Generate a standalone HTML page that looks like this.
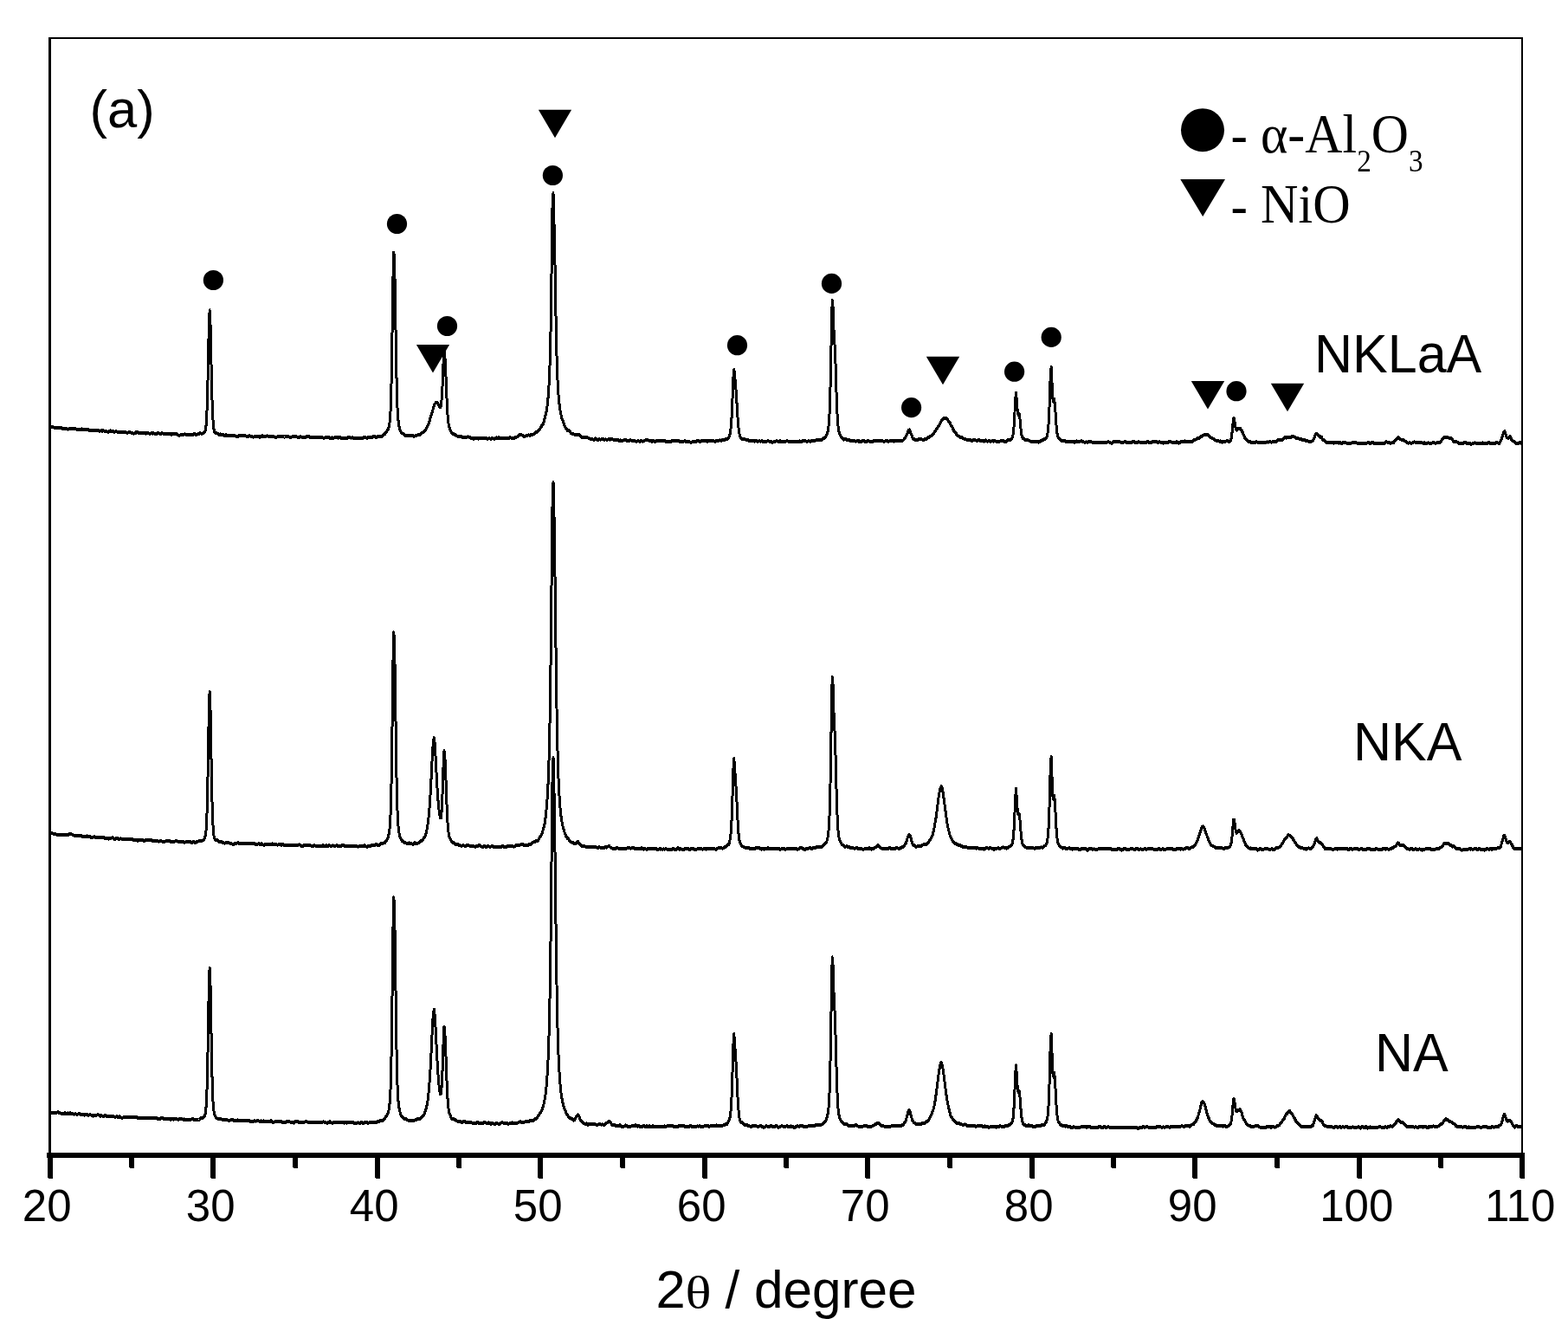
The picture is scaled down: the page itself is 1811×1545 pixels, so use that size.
<!DOCTYPE html>
<html lang="en"><head><meta charset="utf-8"><title>XRD patterns</title>
<style>html,body{margin:0;padding:0;background:#fff;}body{width:1811px;height:1545px;overflow:hidden;}svg{display:block;}.s{font-family:"Liberation Sans",sans-serif;fill:#000;}.t{font-family:"Liberation Serif",serif;fill:#000;}</style></head><body>
<svg width="1811" height="1545" viewBox="0 0 1811 1545">
<rect x="0" y="0" width="1811" height="1545" fill="#fff"/>
<path transform="scale(1 1.3333)" d="M57.6 370.56 L58.5 370.27 L59.4 369.72 L60.3 369.52 L61.2 369.93 L62.1 370.21 L63.0 370.27 L63.9 370.52 L64.8 370.51 L65.7 370.21 L66.6 370.16 L67.5 370.48 L68.4 370.86 L69.3 370.79 L70.2 370.35 L71.1 370.45 L72.0 371.10 L72.9 371.40 L73.8 371.05 L74.7 370.95 L75.6 371.19 L76.5 371.23 L77.4 371.47 L78.3 371.74 L79.2 371.58 L80.1 371.45 L81.0 371.42 L81.9 371.25 L82.8 371.19 L83.7 371.24 L84.6 371.29 L85.5 371.35 L86.4 371.41 L87.3 371.50 L88.2 371.64 L89.1 371.77 L90.0 372.01 L90.9 371.99 L91.8 371.78 L92.7 371.98 L93.6 371.87 L94.5 371.60 L95.4 371.82 L96.3 372.20 L97.2 372.25 L98.1 372.04 L99.0 372.13 L99.9 372.08 L100.8 371.71 L101.7 371.88 L102.6 372.46 L103.5 372.81 L104.4 372.90 L105.3 372.83 L106.2 372.73 L107.1 372.83 L108.0 372.86 L108.9 372.60 L109.8 372.63 L110.7 372.65 L111.6 372.63 L112.5 372.89 L113.4 372.86 L114.3 373.11 L115.2 373.43 L116.1 373.03 L117.0 373.04 L117.9 373.32 L118.8 373.04 L119.7 373.03 L120.6 373.40 L121.5 373.57 L122.4 373.61 L123.3 373.74 L124.2 373.97 L125.1 374.00 L126.0 373.72 L126.9 373.38 L127.8 373.10 L128.7 373.16 L129.6 373.40 L130.5 373.48 L131.4 374.02 L132.3 374.29 L133.2 373.76 L134.1 373.55 L135.0 373.87 L135.9 374.06 L136.8 373.93 L137.7 373.89 L138.6 373.96 L139.5 374.23 L140.4 374.41 L141.3 374.19 L142.2 374.21 L143.1 374.50 L144.0 374.43 L144.9 374.30 L145.8 374.58 L146.7 374.79 L147.6 374.74 L148.5 374.40 L149.4 374.01 L150.3 374.26 L151.2 374.69 L152.1 374.70 L153.0 374.84 L153.9 375.39 L154.8 375.47 L155.7 375.22 L156.6 374.96 L157.5 374.22 L158.4 374.10 L159.3 374.73 L160.2 374.95 L161.1 375.04 L162.0 375.09 L162.9 375.05 L163.8 375.13 L164.7 374.90 L165.6 374.65 L166.5 374.91 L167.4 375.37 L168.3 375.43 L169.2 375.05 L170.1 374.94 L171.0 375.03 L171.9 375.31 L172.8 375.68 L173.7 375.49 L174.6 375.22 L175.5 375.37 L176.4 375.41 L177.3 375.16 L178.2 375.38 L179.1 375.88 L180.0 375.85 L180.9 375.49 L181.8 375.33 L182.7 375.21 L183.6 375.24 L184.5 375.65 L185.4 375.82 L186.3 375.53 L187.2 375.23 L188.1 375.38 L189.0 375.77 L189.9 375.79 L190.8 375.72 L191.7 375.96 L192.6 376.02 L193.5 375.70 L194.4 375.51 L195.3 375.43 L196.2 375.59 L197.1 376.05 L198.0 376.23 L198.9 375.98 L199.8 375.61 L200.7 375.59 L201.6 375.85 L202.5 375.98 L203.4 375.99 L204.3 376.04 L205.2 376.46 L206.1 376.93 L207.0 377.04 L207.9 376.85 L208.8 376.59 L209.7 376.46 L210.6 376.42 L211.5 376.45 L212.4 376.28 L213.3 376.08 L214.2 376.22 L215.1 376.51 L216.0 376.58 L216.9 376.35 L217.8 376.17 L218.7 376.14 L219.6 376.29 L220.5 376.64 L221.4 376.65 L222.3 376.49 L223.2 376.26 L224.1 375.86 L225.0 375.89 L225.9 376.44 L226.8 376.63 L227.7 376.15 L228.6 375.95 L229.5 375.88 L230.4 375.44 L231.3 375.27 L232.2 375.50 L233.1 375.51 L234.0 375.44 L234.9 375.28 L235.8 374.57 L236.7 373.63 L237.6 371.66 L238.5 364.93 L239.4 348.58 L240.3 320.43 L241.2 286.77 L242.1 268.74 L243.0 281.13 L243.9 312.29 L244.8 342.06 L245.7 360.68 L246.6 369.71 L247.5 373.53 L248.4 374.89 L249.3 374.96 L250.2 374.95 L251.1 375.50 L252.0 376.02 L252.9 376.30 L253.8 376.20 L254.7 376.12 L255.6 376.26 L256.5 376.17 L257.4 376.41 L258.3 376.93 L259.2 377.29 L260.1 377.15 L261.0 376.68 L261.9 376.96 L262.8 377.31 L263.7 377.25 L264.6 377.17 L265.5 377.10 L266.4 377.35 L267.3 377.38 L268.2 377.03 L269.1 377.00 L270.0 377.13 L270.9 377.31 L271.8 377.60 L272.7 377.77 L273.6 377.95 L274.5 377.94 L275.4 377.62 L276.3 377.33 L277.2 377.13 L278.1 377.09 L279.0 377.28 L279.9 377.43 L280.8 377.40 L281.7 377.52 L282.6 377.61 L283.5 377.50 L284.4 377.72 L285.3 378.22 L286.2 378.18 L287.1 377.67 L288.0 377.50 L288.9 377.56 L289.8 377.81 L290.7 378.20 L291.6 378.30 L292.5 378.42 L293.4 378.36 L294.3 377.90 L295.2 377.72 L296.1 377.95 L297.0 378.11 L297.9 378.06 L298.8 378.19 L299.7 378.43 L300.6 378.42 L301.5 378.08 L302.4 377.58 L303.3 377.59 L304.2 378.11 L305.1 378.12 L306.0 377.74 L306.9 377.69 L307.8 377.62 L308.7 377.57 L309.6 377.79 L310.5 377.85 L311.4 377.99 L312.3 378.22 L313.2 378.24 L314.1 378.29 L315.0 378.31 L315.9 378.20 L316.8 378.41 L317.7 378.63 L318.6 378.58 L319.5 378.47 L320.4 378.27 L321.3 378.31 L322.2 378.27 L323.1 377.73 L324.0 377.68 L324.9 378.19 L325.8 378.06 L326.7 377.91 L327.6 378.22 L328.5 378.39 L329.4 378.38 L330.3 378.12 L331.2 378.05 L332.1 378.28 L333.0 378.29 L333.9 378.41 L334.8 378.74 L335.7 378.77 L336.6 378.49 L337.5 378.31 L338.4 378.12 L339.3 377.86 L340.2 377.92 L341.1 377.99 L342.0 378.10 L342.9 378.37 L343.8 378.68 L344.7 379.11 L345.6 378.91 L346.5 378.29 L347.4 378.24 L348.3 378.42 L349.2 378.64 L350.1 378.85 L351.0 378.93 L351.9 378.94 L352.8 378.86 L353.7 378.36 L354.6 377.83 L355.5 377.95 L356.4 378.26 L357.3 378.35 L358.2 378.61 L359.1 379.01 L360.0 379.09 L360.9 379.03 L361.8 379.07 L362.7 379.02 L363.6 378.78 L364.5 378.64 L365.4 378.61 L366.3 378.98 L367.2 379.10 L368.1 378.52 L369.0 378.46 L369.9 378.80 L370.8 378.69 L371.7 378.66 L372.6 379.03 L373.5 379.24 L374.4 379.28 L375.3 378.98 L376.2 378.51 L377.1 378.68 L378.0 378.87 L378.9 378.56 L379.8 378.65 L380.7 379.17 L381.6 379.43 L382.5 379.17 L383.4 379.02 L384.3 379.37 L385.2 379.28 L386.1 379.05 L387.0 379.05 L387.9 378.90 L388.8 378.77 L389.7 379.07 L390.6 379.24 L391.5 378.63 L392.4 378.39 L393.3 379.01 L394.2 379.41 L395.1 379.62 L396.0 379.62 L396.9 379.24 L397.8 379.21 L398.7 379.51 L399.6 379.72 L400.5 379.53 L401.4 378.94 L402.3 378.70 L403.2 378.74 L404.1 378.89 L405.0 379.23 L405.9 379.19 L406.8 378.94 L407.7 379.11 L408.6 379.51 L409.5 379.41 L410.4 379.19 L411.3 379.27 L412.2 379.31 L413.1 379.49 L414.0 379.55 L414.9 379.33 L415.8 379.31 L416.7 379.48 L417.6 379.57 L418.5 379.43 L419.4 379.11 L420.3 378.97 L421.2 378.94 L422.1 378.92 L423.0 379.09 L423.9 379.21 L424.8 379.10 L425.7 378.82 L426.6 378.57 L427.5 378.74 L428.4 379.05 L429.3 378.93 L430.2 378.51 L431.1 378.28 L432.0 378.04 L432.9 377.95 L433.8 378.50 L434.7 378.68 L435.6 378.27 L436.5 377.87 L437.4 377.89 L438.3 378.15 L439.2 378.10 L440.1 378.11 L441.0 378.14 L441.9 377.50 L442.8 376.56 L443.7 376.07 L444.6 375.72 L445.5 375.00 L446.4 373.93 L447.3 372.89 L448.2 371.77 L449.1 369.89 L450.0 366.19 L450.9 358.23 L451.8 340.40 L452.7 305.86 L453.6 256.79 L454.5 218.72 L455.4 221.52 L456.3 251.44 L457.2 294.52 L458.1 331.17 L459.0 352.89 L459.9 363.51 L460.8 368.67 L461.7 371.52 L462.6 373.33 L463.5 374.52 L464.4 375.19 L465.3 375.48 L466.2 375.77 L467.1 376.69 L468.0 377.38 L468.9 377.40 L469.8 377.27 L470.7 376.99 L471.6 376.91 L472.5 377.08 L473.4 377.49 L474.3 377.56 L475.2 377.15 L476.1 377.06 L477.0 377.57 L477.9 378.03 L478.8 377.72 L479.7 377.39 L480.6 377.36 L481.5 377.18 L482.4 376.73 L483.3 376.27 L484.2 376.39 L485.1 376.65 L486.0 376.20 L486.9 375.33 L487.8 374.70 L488.7 374.38 L489.6 373.84 L490.5 373.09 L491.4 372.28 L492.3 371.05 L493.2 369.82 L494.1 368.59 L495.0 367.00 L495.9 365.08 L496.8 362.71 L497.7 360.32 L498.6 358.14 L499.5 355.93 L500.4 353.76 L501.3 351.58 L502.2 349.81 L503.1 348.93 L504.0 348.51 L504.9 348.55 L505.8 349.48 L506.7 351.03 L507.6 352.38 L508.5 352.83 L509.4 351.08 L510.3 344.58 L511.2 331.52 L512.1 313.65 L513.0 303.24 L513.9 308.79 L514.8 322.05 L515.7 339.90 L516.6 354.98 L517.5 363.84 L518.4 368.60 L519.3 371.19 L520.2 372.67 L521.1 374.14 L522.0 375.30 L522.9 375.86 L523.8 376.01 L524.7 376.10 L525.6 376.49 L526.5 377.02 L527.4 377.44 L528.3 377.65 L529.2 377.91 L530.1 378.32 L531.0 378.27 L531.9 377.83 L532.8 378.06 L533.7 378.66 L534.6 378.74 L535.5 378.53 L536.4 378.53 L537.3 378.69 L538.2 378.72 L539.1 378.56 L540.0 378.39 L540.9 378.38 L541.8 378.81 L542.7 379.16 L543.6 379.13 L544.5 379.53 L545.4 379.88 L546.3 379.88 L547.2 379.93 L548.1 379.83 L549.0 379.78 L549.9 379.44 L550.8 379.13 L551.7 379.62 L552.6 379.92 L553.5 379.64 L554.4 379.41 L555.3 379.20 L556.2 379.22 L557.1 379.52 L558.0 379.64 L558.9 379.86 L559.8 379.83 L560.7 379.35 L561.6 379.26 L562.5 379.83 L563.4 380.19 L564.3 379.78 L565.2 379.51 L566.1 379.96 L567.0 380.17 L567.9 379.72 L568.8 379.49 L569.7 379.71 L570.6 380.13 L571.5 380.15 L572.4 379.38 L573.3 379.05 L574.2 379.52 L575.1 379.49 L576.0 379.02 L576.9 379.28 L577.8 379.70 L578.7 379.64 L579.6 379.66 L580.5 379.76 L581.4 379.80 L582.3 379.76 L583.2 379.80 L584.1 379.78 L585.0 379.50 L585.9 379.55 L586.8 379.65 L587.7 379.33 L588.6 379.07 L589.5 378.93 L590.4 379.18 L591.3 379.69 L592.2 379.80 L593.1 379.75 L594.0 379.47 L594.9 378.99 L595.8 378.73 L596.7 378.55 L597.6 378.29 L598.5 377.73 L599.4 376.86 L600.3 376.33 L601.2 376.23 L602.1 376.35 L603.0 376.86 L603.9 377.52 L604.8 377.83 L605.7 377.80 L606.6 377.67 L607.5 377.62 L608.4 377.65 L609.3 377.29 L610.2 376.82 L611.1 376.90 L612.0 377.08 L612.9 376.73 L613.8 376.34 L614.7 376.34 L615.6 376.22 L616.5 376.00 L617.4 375.63 L618.3 374.97 L619.2 374.41 L620.1 373.97 L621.0 373.66 L621.9 373.15 L622.8 372.32 L623.7 371.28 L624.6 370.17 L625.5 369.05 L626.4 367.99 L627.3 367.12 L628.2 365.24 L629.1 362.16 L630.0 359.52 L630.9 357.04 L631.8 353.10 L632.7 347.37 L633.6 339.33 L634.5 327.45 L635.4 308.58 L636.3 276.97 L637.2 227.20 L638.1 174.85 L639.0 167.29 L639.9 190.79 L640.8 219.63 L641.7 261.08 L642.6 297.03 L643.5 320.66 L644.4 335.68 L645.3 344.92 L646.2 351.25 L647.1 355.91 L648.0 359.38 L648.9 362.10 L649.8 364.02 L650.7 365.95 L651.6 367.85 L652.5 369.16 L653.4 370.44 L654.3 371.72 L655.2 372.63 L656.1 372.89 L657.0 372.93 L657.9 373.56 L658.8 374.53 L659.7 375.35 L660.6 375.62 L661.5 375.75 L662.4 376.05 L663.3 376.25 L664.2 376.37 L665.1 376.39 L666.0 376.27 L666.9 376.11 L667.8 376.19 L668.7 376.62 L669.6 377.22 L670.5 377.80 L671.4 378.31 L672.3 378.59 L673.2 378.65 L674.1 378.73 L675.0 378.98 L675.9 378.96 L676.8 378.92 L677.7 379.13 L678.6 379.03 L679.5 379.21 L680.4 379.69 L681.3 379.98 L682.2 380.03 L683.1 379.98 L684.0 380.16 L684.9 380.66 L685.8 380.95 L686.7 380.35 L687.6 379.72 L688.5 380.00 L689.4 380.88 L690.3 381.26 L691.2 380.67 L692.1 380.40 L693.0 380.71 L693.9 380.60 L694.8 380.47 L695.7 380.59 L696.6 380.46 L697.5 380.67 L698.4 380.89 L699.3 380.52 L700.2 380.65 L701.1 380.99 L702.0 380.57 L702.9 380.14 L703.8 380.41 L704.7 380.66 L705.6 380.47 L706.5 380.40 L707.4 380.43 L708.3 380.78 L709.2 381.32 L710.1 381.27 L711.0 381.14 L711.9 381.20 L712.8 380.97 L713.7 381.03 L714.6 381.57 L715.5 381.60 L716.4 381.34 L717.3 381.64 L718.2 381.94 L719.1 381.81 L720.0 381.47 L720.9 381.18 L721.8 381.03 L722.7 381.13 L723.6 381.54 L724.5 381.81 L725.4 381.77 L726.3 381.65 L727.2 381.51 L728.1 381.25 L729.0 381.38 L729.9 381.77 L730.8 381.81 L731.7 381.48 L732.6 381.42 L733.5 381.92 L734.4 382.21 L735.3 382.26 L736.2 382.14 L737.1 381.86 L738.0 382.17 L738.9 382.42 L739.8 381.98 L740.7 381.74 L741.6 381.96 L742.5 382.25 L743.4 381.99 L744.3 381.54 L745.2 381.40 L746.1 381.14 L747.0 380.76 L747.9 380.81 L748.8 381.23 L749.7 381.57 L750.6 381.73 L751.5 381.79 L752.4 382.14 L753.3 382.31 L754.2 381.73 L755.1 381.63 L756.0 382.39 L756.9 382.62 L757.8 381.84 L758.7 381.39 L759.6 381.64 L760.5 381.95 L761.4 382.00 L762.3 381.79 L763.2 381.76 L764.1 381.69 L765.0 381.36 L765.9 381.46 L766.8 382.01 L767.7 382.13 L768.6 382.10 L769.5 382.47 L770.4 382.56 L771.3 382.37 L772.2 382.32 L773.1 382.32 L774.0 382.41 L774.9 382.39 L775.8 381.92 L776.7 381.51 L777.6 381.64 L778.5 381.67 L779.4 381.72 L780.3 381.84 L781.2 381.79 L782.1 381.98 L783.0 381.86 L783.9 381.55 L784.8 382.00 L785.7 382.78 L786.6 382.75 L787.5 382.35 L788.4 382.57 L789.3 382.59 L790.2 382.06 L791.1 382.02 L792.0 382.35 L792.9 382.28 L793.8 382.27 L794.7 382.55 L795.6 382.56 L796.5 382.70 L797.4 382.91 L798.3 382.90 L799.2 382.91 L800.1 382.51 L801.0 382.12 L801.9 382.23 L802.8 382.44 L803.7 382.44 L804.6 382.09 L805.5 381.61 L806.4 381.57 L807.3 381.98 L808.2 382.44 L809.1 382.25 L810.0 381.62 L810.9 381.66 L811.8 381.92 L812.7 382.01 L813.6 382.00 L814.5 381.69 L815.4 381.73 L816.3 382.25 L817.2 382.33 L818.1 382.01 L819.0 381.85 L819.9 381.63 L820.8 381.63 L821.7 381.89 L822.6 381.74 L823.5 381.50 L824.4 381.86 L825.3 382.35 L826.2 382.28 L827.1 382.02 L828.0 382.03 L828.9 382.16 L829.8 381.92 L830.7 381.45 L831.6 381.36 L832.5 381.44 L833.4 381.51 L834.3 381.20 L835.2 380.95 L836.1 381.29 L837.0 381.04 L837.9 380.55 L838.8 380.65 L839.7 380.44 L840.6 379.83 L841.5 379.06 L842.4 377.79 L843.3 375.30 L844.2 370.37 L845.1 361.11 L846.0 345.61 L846.9 327.36 L847.8 319.86 L848.7 326.25 L849.6 333.94 L850.5 342.38 L851.4 354.21 L852.3 364.95 L853.2 372.16 L854.1 376.07 L855.0 378.11 L855.9 379.39 L856.8 380.33 L857.7 380.51 L858.6 380.44 L859.5 380.42 L860.4 380.36 L861.3 380.68 L862.2 381.06 L863.1 381.04 L864.0 380.97 L864.9 381.57 L865.8 382.03 L866.7 381.84 L867.6 381.82 L868.5 381.88 L869.4 381.70 L870.3 381.84 L871.2 382.19 L872.1 382.01 L873.0 381.48 L873.9 381.70 L874.8 382.48 L875.7 382.28 L876.6 381.74 L877.5 382.02 L878.4 382.33 L879.3 382.00 L880.2 381.89 L881.1 382.46 L882.0 382.53 L882.9 382.28 L883.8 382.30 L884.7 382.16 L885.6 382.18 L886.5 382.12 L887.4 381.92 L888.3 382.26 L889.2 382.55 L890.1 382.59 L891.0 382.77 L891.9 382.95 L892.8 382.93 L893.7 382.61 L894.6 382.34 L895.5 382.31 L896.4 382.08 L897.3 381.99 L898.2 382.29 L899.1 382.56 L900.0 382.33 L900.9 381.92 L901.8 382.22 L902.7 382.53 L903.6 382.57 L904.5 382.55 L905.4 382.27 L906.3 382.18 L907.2 382.20 L908.1 382.08 L909.0 381.98 L909.9 382.18 L910.8 382.43 L911.7 382.42 L912.6 382.26 L913.5 382.30 L914.4 382.47 L915.3 382.27 L916.2 382.23 L917.1 382.37 L918.0 382.36 L918.9 382.43 L919.8 382.60 L920.7 382.77 L921.6 382.63 L922.5 382.27 L923.4 382.09 L924.3 382.33 L925.2 382.56 L926.1 382.29 L927.0 381.89 L927.9 381.84 L928.8 382.00 L929.7 381.90 L930.6 381.98 L931.5 382.38 L932.4 382.30 L933.3 382.00 L934.2 381.91 L935.1 382.17 L936.0 382.34 L936.9 381.86 L937.8 381.49 L938.7 381.43 L939.6 381.72 L940.5 382.00 L941.4 381.67 L942.3 381.18 L943.2 380.96 L944.1 381.15 L945.0 381.30 L945.9 381.08 L946.8 381.03 L947.7 381.16 L948.6 380.96 L949.5 380.41 L950.4 379.74 L951.3 379.49 L952.2 379.32 L953.1 378.52 L954.0 377.69 L954.9 376.46 L955.8 374.56 L956.7 371.48 L957.6 364.87 L958.5 350.61 L959.4 324.04 L960.3 287.41 L961.2 259.92 L962.1 265.95 L963.0 285.72 L963.9 296.81 L964.8 309.60 L965.7 332.56 L966.6 352.98 L967.5 365.25 L968.4 371.77 L969.3 374.93 L970.2 376.47 L971.1 377.98 L972.0 379.08 L972.9 379.60 L973.8 380.46 L974.7 380.77 L975.6 380.11 L976.5 379.97 L977.4 380.66 L978.3 381.29 L979.2 381.36 L980.1 381.06 L981.0 380.98 L981.9 381.47 L982.8 381.88 L983.7 381.62 L984.6 381.62 L985.5 381.96 L986.4 381.79 L987.3 381.80 L988.2 382.23 L989.1 382.16 L990.0 381.81 L990.9 381.95 L991.8 382.19 L992.7 382.12 L993.6 382.22 L994.5 382.50 L995.4 382.25 L996.3 381.71 L997.2 381.72 L998.1 382.01 L999.0 382.24 L999.9 382.53 L1000.8 382.52 L1001.7 382.06 L1002.6 381.85 L1003.5 382.00 L1004.4 382.27 L1005.3 382.59 L1006.2 382.49 L1007.1 382.34 L1008.0 382.29 L1008.9 381.96 L1009.8 381.76 L1010.7 381.81 L1011.6 381.96 L1012.5 381.97 L1013.4 381.75 L1014.3 381.48 L1015.2 381.38 L1016.1 381.51 L1017.0 381.81 L1017.9 382.03 L1018.8 381.95 L1019.7 381.98 L1020.6 382.26 L1021.5 382.27 L1022.4 382.02 L1023.3 381.88 L1024.2 381.72 L1025.1 381.82 L1026.0 382.30 L1026.9 382.19 L1027.8 381.65 L1028.7 381.72 L1029.6 382.03 L1030.5 381.85 L1031.4 381.87 L1032.3 382.17 L1033.2 382.01 L1034.1 381.90 L1035.0 381.97 L1035.9 381.82 L1036.8 381.82 L1037.7 381.99 L1038.6 381.91 L1039.5 381.77 L1040.4 381.88 L1041.3 382.01 L1042.2 381.93 L1043.1 381.37 L1044.0 380.57 L1044.9 379.76 L1045.8 378.77 L1046.7 377.59 L1047.6 376.10 L1048.5 374.38 L1049.4 372.75 L1050.3 372.37 L1051.2 373.60 L1052.1 375.28 L1053.0 377.20 L1053.9 379.06 L1054.8 379.94 L1055.7 380.13 L1056.6 380.61 L1057.5 381.24 L1058.4 381.38 L1059.3 381.30 L1060.2 380.93 L1061.1 380.39 L1062.0 380.29 L1062.9 380.28 L1063.8 380.30 L1064.7 380.51 L1065.6 380.76 L1066.5 380.88 L1067.4 380.66 L1068.3 380.21 L1069.2 380.00 L1070.1 379.99 L1071.0 379.41 L1071.9 378.65 L1072.8 378.57 L1073.7 378.36 L1074.6 377.75 L1075.5 377.55 L1076.4 377.25 L1077.3 376.32 L1078.2 375.42 L1079.1 374.52 L1080.0 373.46 L1080.9 372.44 L1081.8 371.43 L1082.7 370.39 L1083.6 369.44 L1084.5 368.52 L1085.4 367.40 L1086.3 366.04 L1087.2 364.63 L1088.1 363.76 L1089.0 363.29 L1089.9 362.61 L1090.8 361.98 L1091.7 361.92 L1092.6 362.24 L1093.5 362.66 L1094.4 363.48 L1095.3 364.46 L1096.2 365.11 L1097.1 366.05 L1098.0 367.65 L1098.9 368.90 L1099.8 369.97 L1100.7 371.58 L1101.6 372.86 L1102.5 373.60 L1103.4 374.29 L1104.3 375.40 L1105.2 376.78 L1106.1 377.55 L1107.0 377.69 L1107.9 377.83 L1108.8 378.42 L1109.7 378.98 L1110.6 378.95 L1111.5 379.05 L1112.4 379.66 L1113.3 380.02 L1114.2 380.04 L1115.1 380.35 L1116.0 380.68 L1116.9 380.73 L1117.8 380.89 L1118.7 381.22 L1119.6 381.10 L1120.5 381.01 L1121.4 381.49 L1122.3 381.65 L1123.2 381.44 L1124.1 381.31 L1125.0 381.00 L1125.9 380.78 L1126.8 381.25 L1127.7 381.83 L1128.6 381.81 L1129.5 381.29 L1130.4 380.87 L1131.3 381.12 L1132.2 381.75 L1133.1 381.92 L1134.0 381.61 L1134.9 381.77 L1135.8 382.17 L1136.7 382.18 L1137.6 381.66 L1138.5 381.32 L1139.4 381.82 L1140.3 382.21 L1141.2 382.08 L1142.1 381.82 L1143.0 382.02 L1143.9 382.41 L1144.8 382.28 L1145.7 382.00 L1146.6 382.10 L1147.5 382.15 L1148.4 381.80 L1149.3 381.84 L1150.2 382.18 L1151.1 382.31 L1152.0 382.43 L1152.9 382.56 L1153.8 382.54 L1154.7 382.24 L1155.6 382.09 L1156.5 381.92 L1157.4 381.83 L1158.3 382.07 L1159.2 382.11 L1160.1 382.34 L1161.0 382.59 L1161.9 382.34 L1162.8 381.86 L1163.7 381.21 L1164.6 380.91 L1165.5 381.11 L1166.4 381.24 L1167.3 380.99 L1168.2 380.22 L1169.1 378.94 L1170.0 376.46 L1170.9 370.86 L1171.8 360.15 L1172.7 346.06 L1173.6 340.16 L1174.5 348.75 L1175.4 357.71 L1176.3 359.56 L1177.2 358.50 L1178.1 363.30 L1179.0 371.17 L1179.9 376.62 L1180.8 379.12 L1181.7 379.60 L1182.6 379.65 L1183.5 380.35 L1184.4 381.06 L1185.3 381.32 L1186.2 381.23 L1187.1 381.21 L1188.0 381.45 L1188.9 381.71 L1189.8 381.98 L1190.7 382.41 L1191.6 382.60 L1192.5 382.41 L1193.4 382.20 L1194.3 382.27 L1195.2 382.26 L1196.1 382.15 L1197.0 382.29 L1197.9 382.36 L1198.8 382.64 L1199.7 382.93 L1200.6 382.46 L1201.5 381.88 L1202.4 381.83 L1203.3 381.57 L1204.2 381.18 L1205.1 380.85 L1206.0 380.49 L1206.9 380.18 L1207.8 379.74 L1208.7 379.04 L1209.6 376.95 L1210.5 372.46 L1211.4 363.79 L1212.3 347.51 L1213.2 326.20 L1214.1 317.87 L1215.0 331.61 L1215.9 345.28 L1216.8 347.86 L1217.7 345.71 L1218.6 351.69 L1219.5 363.23 L1220.4 372.25 L1221.3 376.88 L1222.2 378.73 L1223.1 379.77 L1224.0 380.61 L1224.9 381.19 L1225.8 381.58 L1226.7 382.01 L1227.6 382.06 L1228.5 381.63 L1229.4 381.56 L1230.3 381.99 L1231.2 382.42 L1232.1 382.65 L1233.0 382.69 L1233.9 382.50 L1234.8 382.30 L1235.7 382.34 L1236.6 382.42 L1237.5 382.66 L1238.4 382.74 L1239.3 382.47 L1240.2 382.76 L1241.1 383.12 L1242.0 382.68 L1242.9 382.26 L1243.8 382.11 L1244.7 382.27 L1245.6 382.66 L1246.5 382.56 L1247.4 382.34 L1248.3 382.05 L1249.2 381.97 L1250.1 382.48 L1251.0 382.68 L1251.9 382.84 L1252.8 383.08 L1253.7 382.92 L1254.6 382.80 L1255.5 383.00 L1256.4 382.96 L1257.3 382.52 L1258.2 382.18 L1259.1 382.15 L1260.0 382.60 L1260.9 382.92 L1261.8 383.04 L1262.7 383.41 L1263.6 383.60 L1264.5 383.49 L1265.4 383.37 L1266.3 383.27 L1267.2 383.00 L1268.1 382.91 L1269.0 382.89 L1269.9 382.98 L1270.8 383.42 L1271.7 383.35 L1272.6 382.96 L1273.5 382.99 L1274.4 383.03 L1275.3 383.03 L1276.2 383.01 L1277.1 382.88 L1278.0 382.93 L1278.9 382.93 L1279.8 382.73 L1280.7 382.82 L1281.6 383.08 L1282.5 383.35 L1283.4 383.83 L1284.3 383.70 L1285.2 383.05 L1286.1 382.64 L1287.0 382.34 L1287.9 382.36 L1288.8 382.49 L1289.7 382.31 L1290.6 382.28 L1291.5 382.72 L1292.4 382.88 L1293.3 382.71 L1294.2 382.91 L1295.1 383.36 L1296.0 383.28 L1296.9 382.98 L1297.8 382.93 L1298.7 382.57 L1299.6 382.42 L1300.5 382.91 L1301.4 383.35 L1302.3 383.36 L1303.2 383.36 L1304.1 383.44 L1305.0 383.14 L1305.9 383.04 L1306.8 383.23 L1307.7 382.91 L1308.6 382.35 L1309.5 382.34 L1310.4 383.00 L1311.3 383.55 L1312.2 383.39 L1313.1 383.22 L1314.0 383.08 L1314.9 382.78 L1315.8 382.80 L1316.7 383.05 L1317.6 383.14 L1318.5 383.03 L1319.4 383.09 L1320.3 383.12 L1321.2 383.09 L1322.1 383.13 L1323.0 383.21 L1323.9 383.30 L1324.8 382.82 L1325.7 382.56 L1326.6 383.24 L1327.5 383.58 L1328.4 383.46 L1329.3 383.50 L1330.2 383.23 L1331.1 382.58 L1332.0 382.19 L1332.9 382.40 L1333.8 382.83 L1334.7 382.89 L1335.6 382.55 L1336.5 382.75 L1337.4 383.16 L1338.3 382.89 L1339.2 382.57 L1340.1 382.84 L1341.0 383.38 L1341.9 383.51 L1342.8 383.53 L1343.7 383.65 L1344.6 383.61 L1345.5 383.49 L1346.4 383.35 L1347.3 383.32 L1348.2 383.33 L1349.1 383.07 L1350.0 382.71 L1350.9 382.69 L1351.8 382.73 L1352.7 382.71 L1353.6 383.07 L1354.5 383.52 L1355.4 383.42 L1356.3 383.11 L1357.2 383.19 L1358.1 383.15 L1359.0 382.80 L1359.9 383.04 L1360.8 383.59 L1361.7 383.66 L1362.6 383.38 L1363.5 382.85 L1364.4 382.31 L1365.3 382.35 L1366.2 382.71 L1367.1 382.89 L1368.0 382.57 L1368.9 382.06 L1369.8 382.24 L1370.7 382.50 L1371.6 382.36 L1372.5 382.40 L1373.4 382.57 L1374.3 382.52 L1375.2 382.43 L1376.1 382.50 L1377.0 382.34 L1377.9 381.75 L1378.8 381.20 L1379.7 380.99 L1380.6 380.87 L1381.5 380.51 L1382.4 379.92 L1383.3 379.59 L1384.2 379.61 L1385.1 379.53 L1386.0 378.94 L1386.9 378.27 L1387.8 377.87 L1388.7 377.36 L1389.6 376.99 L1390.5 376.82 L1391.4 376.54 L1392.3 376.44 L1393.2 376.52 L1394.1 376.60 L1395.0 376.67 L1395.9 376.84 L1396.8 377.76 L1397.7 378.77 L1398.6 379.07 L1399.5 379.34 L1400.4 379.64 L1401.3 380.03 L1402.2 380.66 L1403.1 381.20 L1404.0 381.45 L1404.9 381.44 L1405.8 381.58 L1406.7 381.74 L1407.6 381.98 L1408.5 382.27 L1409.4 382.10 L1410.3 382.37 L1411.2 382.94 L1412.1 382.71 L1413.0 382.44 L1413.9 382.41 L1414.8 382.29 L1415.7 382.23 L1416.6 382.05 L1417.5 381.94 L1418.4 382.13 L1419.3 382.31 L1420.2 382.18 L1421.1 381.69 L1422.0 379.84 L1422.9 375.50 L1423.8 368.77 L1424.7 362.24 L1425.6 362.53 L1426.5 368.02 L1427.4 371.84 L1428.3 372.59 L1429.2 372.05 L1430.1 371.38 L1431.0 370.98 L1431.9 370.88 L1432.8 371.35 L1433.7 372.50 L1434.6 373.65 L1435.5 374.98 L1436.4 376.75 L1437.3 378.46 L1438.2 379.80 L1439.1 380.72 L1440.0 381.27 L1440.9 381.71 L1441.8 382.25 L1442.7 382.63 L1443.6 382.68 L1444.5 382.86 L1445.4 383.33 L1446.3 383.45 L1447.2 383.27 L1448.1 383.09 L1449.0 383.10 L1449.9 383.09 L1450.8 382.79 L1451.7 382.76 L1452.6 383.05 L1453.5 383.19 L1454.4 383.31 L1455.3 383.24 L1456.2 383.07 L1457.1 383.37 L1458.0 383.56 L1458.9 383.37 L1459.8 383.27 L1460.7 383.30 L1461.6 383.21 L1462.5 382.94 L1463.4 382.81 L1464.3 383.03 L1465.2 382.90 L1466.1 382.51 L1467.0 382.64 L1467.9 382.91 L1468.8 382.91 L1469.7 382.70 L1470.6 382.79 L1471.5 382.80 L1472.4 382.61 L1473.3 382.70 L1474.2 382.41 L1475.1 381.74 L1476.0 381.13 L1476.9 381.02 L1477.8 381.28 L1478.7 381.01 L1479.6 380.75 L1480.5 380.87 L1481.4 380.64 L1482.3 379.95 L1483.2 379.11 L1484.1 378.88 L1485.0 379.21 L1485.9 379.06 L1486.8 378.93 L1487.7 378.98 L1488.6 378.58 L1489.5 378.58 L1490.4 378.87 L1491.3 378.48 L1492.2 377.90 L1493.1 377.98 L1494.0 378.24 L1494.9 378.25 L1495.8 378.74 L1496.7 379.19 L1497.6 379.17 L1498.5 379.32 L1499.4 379.68 L1500.3 380.05 L1501.2 380.07 L1502.1 380.06 L1503.0 380.46 L1503.9 380.71 L1504.8 380.78 L1505.7 380.89 L1506.6 380.95 L1507.5 381.32 L1508.4 381.62 L1509.3 381.60 L1510.2 381.94 L1511.1 382.18 L1512.0 382.33 L1512.9 382.72 L1513.8 382.62 L1514.7 382.18 L1515.6 382.02 L1516.5 381.39 L1517.4 380.00 L1518.3 378.52 L1519.2 376.86 L1520.1 375.69 L1521.0 375.62 L1521.9 376.18 L1522.8 377.10 L1523.7 377.94 L1524.6 378.50 L1525.5 378.38 L1526.4 378.52 L1527.3 380.10 L1528.2 381.15 L1529.1 381.06 L1530.0 381.69 L1530.9 382.71 L1531.8 383.24 L1532.7 383.41 L1533.6 383.46 L1534.5 383.40 L1535.4 383.19 L1536.3 383.23 L1537.2 383.27 L1538.1 383.01 L1539.0 382.86 L1539.9 383.30 L1540.8 383.70 L1541.7 383.47 L1542.6 383.38 L1543.5 383.40 L1544.4 383.33 L1545.3 383.56 L1546.2 383.70 L1547.1 383.33 L1548.0 383.25 L1548.9 383.74 L1549.8 383.80 L1550.7 383.57 L1551.6 383.46 L1552.5 383.20 L1553.4 383.09 L1554.3 383.41 L1555.2 383.78 L1556.1 384.12 L1557.0 384.09 L1557.9 383.87 L1558.8 383.98 L1559.7 383.95 L1560.6 383.68 L1561.5 383.51 L1562.4 383.49 L1563.3 383.55 L1564.2 383.55 L1565.1 383.44 L1566.0 383.46 L1566.9 383.62 L1567.8 383.75 L1568.7 383.82 L1569.6 383.70 L1570.5 383.69 L1571.4 383.93 L1572.3 383.86 L1573.2 383.67 L1574.1 383.71 L1575.0 383.65 L1575.9 383.64 L1576.8 383.69 L1577.7 383.78 L1578.6 383.68 L1579.5 383.52 L1580.4 383.59 L1581.3 383.59 L1582.2 383.89 L1583.1 383.85 L1584.0 383.47 L1584.9 383.59 L1585.8 383.55 L1586.7 383.55 L1587.6 384.05 L1588.5 384.24 L1589.4 384.21 L1590.3 384.25 L1591.2 383.97 L1592.1 383.87 L1593.0 383.96 L1593.9 383.83 L1594.8 384.00 L1595.7 384.16 L1596.6 383.95 L1597.5 383.85 L1598.4 383.90 L1599.3 383.75 L1600.2 383.08 L1601.1 382.59 L1602.0 382.87 L1602.9 383.32 L1603.8 383.63 L1604.7 383.63 L1605.6 383.64 L1606.5 383.83 L1607.4 383.60 L1608.3 383.35 L1609.2 383.44 L1610.1 383.00 L1611.0 381.84 L1611.9 380.85 L1612.8 380.21 L1613.7 379.40 L1614.6 378.74 L1615.5 378.97 L1616.4 379.94 L1617.3 380.51 L1618.2 380.68 L1619.1 380.78 L1620.0 380.62 L1620.9 381.01 L1621.8 381.74 L1622.7 382.13 L1623.6 382.34 L1624.5 382.84 L1625.4 383.55 L1626.3 383.79 L1627.2 383.60 L1628.1 383.44 L1629.0 383.64 L1629.9 383.94 L1630.8 383.76 L1631.7 383.30 L1632.6 382.93 L1633.5 382.88 L1634.4 382.96 L1635.3 383.03 L1636.2 383.35 L1637.1 383.51 L1638.0 383.42 L1638.9 383.53 L1639.8 383.47 L1640.7 383.41 L1641.6 383.38 L1642.5 383.42 L1643.4 383.75 L1644.3 383.67 L1645.2 383.56 L1646.1 383.76 L1647.0 383.75 L1647.9 383.72 L1648.8 383.63 L1649.7 383.55 L1650.6 383.74 L1651.5 383.85 L1652.4 383.97 L1653.3 383.92 L1654.2 383.49 L1655.1 383.32 L1656.0 383.42 L1656.9 383.57 L1657.8 383.75 L1658.7 383.79 L1659.6 383.57 L1660.5 383.34 L1661.4 383.31 L1662.3 383.22 L1663.2 383.02 L1664.1 382.44 L1665.0 381.39 L1665.9 380.38 L1666.8 379.48 L1667.7 378.98 L1668.6 379.00 L1669.5 378.79 L1670.4 378.41 L1671.3 378.47 L1672.2 378.77 L1673.1 379.10 L1674.0 379.34 L1674.9 379.26 L1675.8 379.23 L1676.7 379.92 L1677.6 380.97 L1678.5 381.89 L1679.4 382.59 L1680.3 382.86 L1681.2 382.89 L1682.1 382.70 L1683.0 382.80 L1683.9 383.56 L1684.8 384.12 L1685.7 383.97 L1686.6 383.77 L1687.5 383.94 L1688.4 384.10 L1689.3 384.06 L1690.2 383.80 L1691.1 383.47 L1692.0 383.40 L1692.9 383.61 L1693.8 383.65 L1694.7 383.78 L1695.6 384.27 L1696.5 384.25 L1697.4 384.00 L1698.3 384.41 L1699.2 384.74 L1700.1 384.39 L1701.0 384.20 L1701.9 384.10 L1702.8 383.69 L1703.7 383.57 L1704.6 383.82 L1705.5 383.88 L1706.4 383.70 L1707.3 383.80 L1708.2 383.88 L1709.1 383.79 L1710.0 384.01 L1710.9 384.20 L1711.8 383.82 L1712.7 383.62 L1713.6 383.85 L1714.5 383.96 L1715.4 384.05 L1716.3 384.05 L1717.2 384.00 L1718.1 383.78 L1719.0 383.28 L1719.9 383.48 L1720.8 384.07 L1721.7 383.97 L1722.6 383.77 L1723.5 383.68 L1724.4 383.69 L1725.3 383.97 L1726.2 384.15 L1727.1 383.72 L1728.0 383.11 L1728.9 383.12 L1729.8 383.56 L1730.7 383.93 L1731.6 384.05 L1732.5 383.27 L1733.4 381.61 L1734.3 379.85 L1735.2 377.82 L1736.1 375.74 L1737.0 373.93 L1737.9 373.66 L1738.8 375.69 L1739.7 377.89 L1740.6 378.95 L1741.5 379.47 L1742.4 379.45 L1743.3 378.56 L1744.2 378.20 L1745.1 379.40 L1746.0 381.03 L1746.9 381.86 L1747.8 382.04 L1748.7 382.51 L1749.6 383.22 L1750.5 383.67 L1751.4 383.67 L1752.3 383.66 L1753.2 384.04 L1754.1 383.98 L1755.0 383.50 L1755.9 383.54 L1756.8 383.68 L1757.7 383.64" fill="none" stroke="#000" stroke-width="3" stroke-linejoin="round" stroke-linecap="butt" shape-rendering="crispEdges"/>
<path transform="scale(1 1.3333)" d="M57.6 722.02 L58.5 721.95 L59.4 721.84 L60.3 721.83 L61.2 721.97 L62.1 721.95 L63.0 722.08 L63.9 722.22 L64.8 722.55 L65.7 723.02 L66.6 722.79 L67.5 722.75 L68.4 722.80 L69.3 722.67 L70.2 722.89 L71.1 723.05 L72.0 722.95 L72.9 722.64 L73.8 722.70 L74.7 723.23 L75.6 723.34 L76.5 723.27 L77.4 723.39 L78.3 723.26 L79.2 722.73 L80.1 722.36 L81.0 722.40 L81.9 722.44 L82.8 722.57 L83.7 722.99 L84.6 723.34 L85.5 723.57 L86.4 723.67 L87.3 723.62 L88.2 723.67 L89.1 723.68 L90.0 723.54 L90.9 723.62 L91.8 723.81 L92.7 723.79 L93.6 723.84 L94.5 724.21 L95.4 724.57 L96.3 724.46 L97.2 724.18 L98.1 724.14 L99.0 724.59 L99.9 724.62 L100.8 724.06 L101.7 724.33 L102.6 724.86 L103.5 724.78 L104.4 724.81 L105.3 725.30 L106.2 725.35 L107.1 725.02 L108.0 724.88 L108.9 724.83 L109.8 724.94 L110.7 725.18 L111.6 725.42 L112.5 725.40 L113.4 725.36 L114.3 725.54 L115.2 725.62 L116.1 725.34 L117.0 725.23 L117.9 725.43 L118.8 725.27 L119.7 725.19 L120.6 725.58 L121.5 726.02 L122.4 725.99 L123.3 725.76 L124.2 726.26 L125.1 726.49 L126.0 726.05 L126.9 725.85 L127.8 725.84 L128.7 725.74 L129.6 725.55 L130.5 725.61 L131.4 726.07 L132.3 726.63 L133.2 726.78 L134.1 726.17 L135.0 725.86 L135.9 726.27 L136.8 726.56 L137.7 726.65 L138.6 726.50 L139.5 726.31 L140.4 726.58 L141.3 727.01 L142.2 726.93 L143.1 726.82 L144.0 726.86 L144.9 726.65 L145.8 726.72 L146.7 726.85 L147.6 726.60 L148.5 726.63 L149.4 726.99 L150.3 727.13 L151.2 727.07 L152.1 726.93 L153.0 726.82 L153.9 727.36 L154.8 727.95 L155.7 727.81 L156.6 727.64 L157.5 727.66 L158.4 727.91 L159.3 728.06 L160.2 727.74 L161.1 727.29 L162.0 727.29 L162.9 727.55 L163.8 727.30 L164.7 727.41 L165.6 728.16 L166.5 728.35 L167.4 727.97 L168.3 727.69 L169.2 727.71 L170.1 727.84 L171.0 727.66 L171.9 727.41 L172.8 727.64 L173.7 727.79 L174.6 727.56 L175.5 727.65 L176.4 728.25 L177.3 728.64 L178.2 728.46 L179.1 728.51 L180.0 728.63 L180.9 728.17 L181.8 728.10 L182.7 728.62 L183.6 728.84 L184.5 728.34 L185.4 727.93 L186.3 728.42 L187.2 728.79 L188.1 728.73 L189.0 728.94 L189.9 729.07 L190.8 728.72 L191.7 728.20 L192.6 728.11 L193.5 728.42 L194.4 728.52 L195.3 728.41 L196.2 728.50 L197.1 728.88 L198.0 729.17 L198.9 728.98 L199.8 728.83 L200.7 729.10 L201.6 728.88 L202.5 728.51 L203.4 728.63 L204.3 728.50 L205.2 728.70 L206.1 729.36 L207.0 729.40 L207.9 729.01 L208.8 728.96 L209.7 729.00 L210.6 728.92 L211.5 729.15 L212.4 729.41 L213.3 729.49 L214.2 729.30 L215.1 729.13 L216.0 729.29 L216.9 729.19 L217.8 728.89 L218.7 728.85 L219.6 729.08 L220.5 729.48 L221.4 729.71 L222.3 729.44 L223.2 729.14 L224.1 729.32 L225.0 729.73 L225.9 729.69 L226.8 729.34 L227.7 729.25 L228.6 728.92 L229.5 728.39 L230.4 728.36 L231.3 728.52 L232.2 728.45 L233.1 728.21 L234.0 727.95 L234.9 727.52 L235.8 726.50 L236.7 725.18 L237.6 722.61 L238.5 714.93 L239.4 696.05 L240.3 661.92 L241.2 620.86 L242.1 599.17 L243.0 614.45 L243.9 652.98 L244.8 689.22 L245.7 711.17 L246.6 721.72 L247.5 725.92 L248.4 727.21 L249.3 727.43 L250.2 727.42 L251.1 727.83 L252.0 728.59 L252.9 729.18 L253.8 729.29 L254.7 729.33 L255.6 729.36 L256.5 729.37 L257.4 729.59 L258.3 729.88 L259.2 730.21 L260.1 730.15 L261.0 729.84 L261.9 729.69 L262.8 729.72 L263.7 729.92 L264.6 730.00 L265.5 730.28 L266.4 730.65 L267.3 730.65 L268.2 730.90 L269.1 731.25 L270.0 731.10 L270.9 730.81 L271.8 730.41 L272.7 730.20 L273.6 730.29 L274.5 729.90 L275.4 729.73 L276.3 730.42 L277.2 730.66 L278.1 730.59 L279.0 730.86 L279.9 730.78 L280.8 730.46 L281.7 730.58 L282.6 730.88 L283.5 730.75 L284.4 730.55 L285.3 730.53 L286.2 730.36 L287.1 730.22 L288.0 730.35 L288.9 730.66 L289.8 730.81 L290.7 730.78 L291.6 730.90 L292.5 730.82 L293.4 730.69 L294.3 730.86 L295.2 731.03 L296.1 731.15 L297.0 731.26 L297.9 731.01 L298.8 730.64 L299.7 730.95 L300.6 731.46 L301.5 731.03 L302.4 730.57 L303.3 731.15 L304.2 731.83 L305.1 731.76 L306.0 731.44 L306.9 731.41 L307.8 731.46 L308.7 731.28 L309.6 731.38 L310.5 731.64 L311.4 731.59 L312.3 731.37 L313.2 731.00 L314.1 730.84 L315.0 731.07 L315.9 731.31 L316.8 731.26 L317.7 731.10 L318.6 731.18 L319.5 731.55 L320.4 731.71 L321.3 731.59 L322.2 731.63 L323.1 731.56 L324.0 731.47 L324.9 731.79 L325.8 731.67 L326.7 731.22 L327.6 731.73 L328.5 732.20 L329.4 731.97 L330.3 732.01 L331.2 732.14 L332.1 732.03 L333.0 732.05 L333.9 732.29 L334.8 732.27 L335.7 732.08 L336.6 731.90 L337.5 731.66 L338.4 731.71 L339.3 731.88 L340.2 731.80 L341.1 731.89 L342.0 732.20 L342.9 732.28 L343.8 732.02 L344.7 731.66 L345.6 731.59 L346.5 731.73 L347.4 732.09 L348.3 732.77 L349.2 732.95 L350.1 732.49 L351.0 732.18 L351.9 732.02 L352.8 732.06 L353.7 732.23 L354.6 732.01 L355.5 731.92 L356.4 732.18 L357.3 732.27 L358.2 732.31 L359.1 732.47 L360.0 732.61 L360.9 732.66 L361.8 732.58 L362.7 732.37 L363.6 732.32 L364.5 732.44 L365.4 732.52 L366.3 732.56 L367.2 732.81 L368.1 732.97 L369.0 732.69 L369.9 732.53 L370.8 732.70 L371.7 732.70 L372.6 732.26 L373.5 732.19 L374.4 732.70 L375.3 732.81 L376.2 732.44 L377.1 732.33 L378.0 732.61 L378.9 732.57 L379.8 732.28 L380.7 732.23 L381.6 732.51 L382.5 732.85 L383.4 732.61 L384.3 732.26 L385.2 732.50 L386.1 732.95 L387.0 732.88 L387.9 732.43 L388.8 732.22 L389.7 732.44 L390.6 732.67 L391.5 732.59 L392.4 732.55 L393.3 732.62 L394.2 732.48 L395.1 732.24 L396.0 732.16 L396.9 732.28 L397.8 732.54 L398.7 732.81 L399.6 732.79 L400.5 732.78 L401.4 732.86 L402.3 732.79 L403.2 732.78 L404.1 732.61 L405.0 732.70 L405.9 733.11 L406.8 733.05 L407.7 732.72 L408.6 732.58 L409.5 732.50 L410.4 732.66 L411.3 732.81 L412.2 732.90 L413.1 733.16 L414.0 733.19 L414.9 732.94 L415.8 732.68 L416.7 732.68 L417.6 732.91 L418.5 733.08 L419.4 732.95 L420.3 732.57 L421.2 732.24 L422.1 732.51 L423.0 733.19 L423.9 733.38 L424.8 733.10 L425.7 732.98 L426.6 733.11 L427.5 732.93 L428.4 732.52 L429.3 732.13 L430.2 732.03 L431.1 732.33 L432.0 732.38 L432.9 732.04 L433.8 731.52 L434.7 731.20 L435.6 731.53 L436.5 732.20 L437.4 732.28 L438.3 731.64 L439.2 731.05 L440.1 730.64 L441.0 730.57 L441.9 730.57 L442.8 730.23 L443.7 730.05 L444.6 729.75 L445.5 728.69 L446.4 727.71 L447.3 726.98 L448.2 725.31 L449.1 722.48 L450.0 717.88 L450.9 708.51 L451.8 687.94 L452.7 648.63 L453.6 592.18 L454.5 547.74 L455.4 551.29 L456.3 586.08 L457.2 635.28 L458.1 677.23 L459.0 702.08 L459.9 714.48 L460.8 720.72 L461.7 724.03 L462.6 725.95 L463.5 727.19 L464.4 728.21 L465.3 728.83 L466.2 729.14 L467.1 729.66 L468.0 730.00 L468.9 730.08 L469.8 730.41 L470.7 730.58 L471.6 730.19 L472.5 730.14 L473.4 730.66 L474.3 730.81 L475.2 730.67 L476.1 730.94 L477.0 731.02 L477.9 730.27 L478.8 729.91 L479.7 730.33 L480.6 730.39 L481.5 730.26 L482.4 730.33 L483.3 729.97 L484.2 729.37 L485.1 728.90 L486.0 728.47 L486.9 728.12 L487.8 727.64 L488.7 726.83 L489.6 725.79 L490.5 724.69 L491.4 723.31 L492.3 721.19 L493.2 717.85 L494.1 713.43 L495.0 707.97 L495.9 700.62 L496.8 691.15 L497.7 679.31 L498.6 665.63 L499.5 652.49 L500.4 642.62 L501.3 639.18 L502.2 644.31 L503.1 655.79 L504.0 669.19 L504.9 681.37 L505.8 691.36 L506.7 699.35 L507.6 705.07 L508.5 708.38 L509.4 708.15 L510.3 700.91 L511.2 684.71 L512.1 662.96 L513.0 650.20 L513.9 656.21 L514.8 671.13 L515.7 690.73 L516.6 707.64 L517.5 718.06 L518.4 723.21 L519.3 725.59 L520.2 726.83 L521.1 727.93 L522.0 729.06 L522.9 729.75 L523.8 729.97 L524.7 730.55 L525.6 731.15 L526.5 731.02 L527.4 730.93 L528.3 731.15 L529.2 731.59 L530.1 732.09 L531.0 732.27 L531.9 732.39 L532.8 732.49 L533.7 732.45 L534.6 732.31 L535.5 732.28 L536.4 732.42 L537.3 732.50 L538.2 732.44 L539.1 732.17 L540.0 732.12 L540.9 732.27 L541.8 732.30 L542.7 732.59 L543.6 733.01 L544.5 732.87 L545.4 732.50 L546.3 732.77 L547.2 733.09 L548.1 733.15 L549.0 733.33 L549.9 732.95 L550.8 732.66 L551.7 732.97 L552.6 732.51 L553.5 732.04 L554.4 732.50 L555.3 732.85 L556.2 733.15 L557.1 733.51 L558.0 733.48 L558.9 733.06 L559.8 732.95 L560.7 733.39 L561.6 733.46 L562.5 733.08 L563.4 732.78 L564.3 732.91 L565.2 733.20 L566.1 733.27 L567.0 733.17 L567.9 732.83 L568.8 732.76 L569.7 733.14 L570.6 733.45 L571.5 733.75 L572.4 733.78 L573.3 733.39 L574.2 733.36 L575.1 733.71 L576.0 733.59 L576.9 733.43 L577.8 733.70 L578.7 733.58 L579.6 733.10 L580.5 732.85 L581.4 733.06 L582.3 733.40 L583.2 733.60 L584.1 733.78 L585.0 733.52 L585.9 733.03 L586.8 732.94 L587.7 732.93 L588.6 732.79 L589.5 732.69 L590.4 732.60 L591.3 732.65 L592.2 732.90 L593.1 733.21 L594.0 733.18 L594.9 732.74 L595.8 732.13 L596.7 731.78 L597.6 732.14 L598.5 732.35 L599.4 732.06 L600.3 731.80 L601.2 731.55 L602.1 731.39 L603.0 731.35 L603.9 731.32 L604.8 731.59 L605.7 732.22 L606.6 732.37 L607.5 732.00 L608.4 731.95 L609.3 732.10 L610.2 731.75 L611.1 731.23 L612.0 731.12 L612.9 731.09 L613.8 730.89 L614.7 730.37 L615.6 729.67 L616.5 729.15 L617.4 728.89 L618.3 728.84 L619.2 728.37 L620.1 727.97 L621.0 728.06 L621.9 727.32 L622.8 726.05 L623.7 724.98 L624.6 723.80 L625.5 722.60 L626.4 720.87 L627.3 718.53 L628.2 716.19 L629.1 713.24 L630.0 708.56 L630.9 702.34 L631.8 694.84 L632.7 684.39 L633.6 669.05 L634.5 646.27 L635.4 611.33 L636.3 560.22 L637.2 493.69 L638.1 433.40 L639.0 417.50 L639.9 442.12 L640.8 485.85 L641.7 542.21 L642.6 595.30 L643.5 634.90 L644.4 661.96 L645.3 680.01 L646.2 692.08 L647.1 700.60 L648.0 706.78 L648.9 711.28 L649.8 714.84 L650.7 717.60 L651.6 719.77 L652.5 721.97 L653.4 723.66 L654.3 724.94 L655.2 725.89 L656.1 726.24 L657.0 727.04 L657.9 728.12 L658.8 728.77 L659.7 729.27 L660.6 729.45 L661.5 729.63 L662.4 730.15 L663.3 730.45 L664.2 730.43 L665.1 730.41 L666.0 730.00 L666.9 729.12 L667.8 729.18 L668.7 730.07 L669.6 730.65 L670.5 731.45 L671.4 732.30 L672.3 732.63 L673.2 732.73 L674.1 732.55 L675.0 732.49 L675.9 733.07 L676.8 733.49 L677.7 733.37 L678.6 733.26 L679.5 733.46 L680.4 733.61 L681.3 733.44 L682.2 733.25 L683.1 733.34 L684.0 733.50 L684.9 733.41 L685.8 733.67 L686.7 733.85 L687.6 733.41 L688.5 733.56 L689.4 734.05 L690.3 734.19 L691.2 734.14 L692.1 733.77 L693.0 733.82 L693.9 734.14 L694.8 734.00 L695.7 733.96 L696.6 734.23 L697.5 734.27 L698.4 733.90 L699.3 733.83 L700.2 733.97 L701.1 733.65 L702.0 733.10 L702.9 732.73 L703.8 732.95 L704.7 733.68 L705.6 734.13 L706.5 734.52 L707.4 734.87 L708.3 734.71 L709.2 734.63 L710.1 734.92 L711.0 734.85 L711.9 734.20 L712.8 734.09 L713.7 734.58 L714.6 734.72 L715.5 734.95 L716.4 735.23 L717.3 734.94 L718.2 734.87 L719.1 734.98 L720.0 734.75 L720.9 734.70 L721.8 734.80 L722.7 734.87 L723.6 734.76 L724.5 734.50 L725.4 734.50 L726.3 734.47 L727.2 734.49 L728.1 734.73 L729.0 734.62 L729.9 734.29 L730.8 734.26 L731.7 734.42 L732.6 734.60 L733.5 735.00 L734.4 735.18 L735.3 734.85 L736.2 734.65 L737.1 734.85 L738.0 735.01 L738.9 734.97 L739.8 734.98 L740.7 734.61 L741.6 734.53 L742.5 735.27 L743.4 735.46 L744.3 735.14 L745.2 735.11 L746.1 735.37 L747.0 735.52 L747.9 735.28 L748.8 735.12 L749.7 735.03 L750.6 735.01 L751.5 735.26 L752.4 735.27 L753.3 735.40 L754.2 735.35 L755.1 734.93 L756.0 735.03 L756.9 734.96 L757.8 734.91 L758.7 735.37 L759.6 735.70 L760.5 735.49 L761.4 735.28 L762.3 735.43 L763.2 735.27 L764.1 735.35 L765.0 735.62 L765.9 735.41 L766.8 735.34 L767.7 735.46 L768.6 735.21 L769.5 735.10 L770.4 735.54 L771.3 735.78 L772.2 735.63 L773.1 735.61 L774.0 735.77 L774.9 735.86 L775.8 735.80 L776.7 735.31 L777.6 734.94 L778.5 735.32 L779.4 735.69 L780.3 735.82 L781.2 735.63 L782.1 734.74 L783.0 734.47 L783.9 735.26 L784.8 735.61 L785.7 735.23 L786.6 735.20 L787.5 735.54 L788.4 735.70 L789.3 735.84 L790.2 735.80 L791.1 735.28 L792.0 734.81 L792.9 734.98 L793.8 734.97 L794.7 734.77 L795.6 735.36 L796.5 735.87 L797.4 735.23 L798.3 734.85 L799.2 735.19 L800.1 735.14 L801.0 735.31 L801.9 735.80 L802.8 735.83 L803.7 735.70 L804.6 735.61 L805.5 735.19 L806.4 734.86 L807.3 734.95 L808.2 735.06 L809.1 735.12 L810.0 735.23 L810.9 735.43 L811.8 735.42 L812.7 735.10 L813.6 735.04 L814.5 735.35 L815.4 735.45 L816.3 734.93 L817.2 734.67 L818.1 734.93 L819.0 734.82 L819.9 734.73 L820.8 734.96 L821.7 734.90 L822.6 734.81 L823.5 735.07 L824.4 735.22 L825.3 735.19 L826.2 735.41 L827.1 735.67 L828.0 735.27 L828.9 734.69 L829.8 734.24 L830.7 734.21 L831.6 734.60 L832.5 734.46 L833.4 734.48 L834.3 734.74 L835.2 734.55 L836.1 734.07 L837.0 733.75 L837.9 733.65 L838.8 733.09 L839.7 732.20 L840.6 731.75 L841.5 731.41 L842.4 729.81 L843.3 726.57 L844.2 720.97 L845.1 709.48 L846.0 689.76 L846.9 666.58 L847.8 657.07 L848.7 666.01 L849.6 676.28 L850.5 686.27 L851.4 700.92 L852.3 714.80 L853.2 723.89 L854.1 728.22 L855.0 730.31 L855.9 731.61 L856.8 732.44 L857.7 733.07 L858.6 733.31 L859.5 733.72 L860.4 734.15 L861.3 734.06 L862.2 734.19 L863.1 734.58 L864.0 734.53 L864.9 734.45 L865.8 734.77 L866.7 734.89 L867.6 734.96 L868.5 735.21 L869.4 735.28 L870.3 735.26 L871.2 735.30 L872.1 735.04 L873.0 734.56 L873.9 734.42 L874.8 734.53 L875.7 734.65 L876.6 734.56 L877.5 734.46 L878.4 734.92 L879.3 735.42 L880.2 735.42 L881.1 735.09 L882.0 735.13 L882.9 735.47 L883.8 735.18 L884.7 734.94 L885.6 734.91 L886.5 734.60 L887.4 734.62 L888.3 735.15 L889.2 735.42 L890.1 735.28 L891.0 735.33 L891.9 735.43 L892.8 735.22 L893.7 735.14 L894.6 735.33 L895.5 735.15 L896.4 734.76 L897.3 734.91 L898.2 735.34 L899.1 735.28 L900.0 735.18 L900.9 735.49 L901.8 735.55 L902.7 735.15 L903.6 734.87 L904.5 735.05 L905.4 735.14 L906.3 735.32 L907.2 735.73 L908.1 735.37 L909.0 734.69 L909.9 734.77 L910.8 735.25 L911.7 735.29 L912.6 735.06 L913.5 735.07 L914.4 735.30 L915.3 735.20 L916.2 734.85 L917.1 734.71 L918.0 734.79 L918.9 735.07 L919.8 735.30 L920.7 735.43 L921.6 735.49 L922.5 735.15 L923.4 734.62 L924.3 734.49 L925.2 734.46 L926.1 734.39 L927.0 734.75 L927.9 735.28 L928.8 735.54 L929.7 735.55 L930.6 735.37 L931.5 735.10 L932.4 734.85 L933.3 734.71 L934.2 734.60 L935.1 734.37 L936.0 734.33 L936.9 734.77 L937.8 734.93 L938.7 734.38 L939.6 734.26 L940.5 734.61 L941.4 734.32 L942.3 733.87 L943.2 733.67 L944.1 733.53 L945.0 733.73 L945.9 733.64 L946.8 733.34 L947.7 733.32 L948.6 733.34 L949.5 733.18 L950.4 732.65 L951.3 732.02 L952.2 731.36 L953.1 730.79 L954.0 730.02 L954.9 728.63 L955.8 726.13 L956.7 722.04 L957.6 714.49 L958.5 697.33 L959.4 664.76 L960.3 619.91 L961.2 586.20 L962.1 593.14 L963.0 616.80 L963.9 631.21 L964.8 647.59 L965.7 674.34 L966.6 698.55 L967.5 714.49 L968.4 722.88 L969.3 726.61 L970.2 728.37 L971.1 729.62 L972.0 730.86 L972.9 731.65 L973.8 731.96 L974.7 732.50 L975.6 733.18 L976.5 733.39 L977.4 733.10 L978.3 733.05 L979.2 733.31 L980.1 733.31 L981.0 733.59 L981.9 734.26 L982.8 734.34 L983.7 734.09 L984.6 734.23 L985.5 734.53 L986.4 734.83 L987.3 735.03 L988.2 734.61 L989.1 734.19 L990.0 734.48 L990.9 734.70 L991.8 734.69 L992.7 734.74 L993.6 734.70 L994.5 734.83 L995.4 735.21 L996.3 735.48 L997.2 735.53 L998.1 735.44 L999.0 735.30 L999.9 734.97 L1000.8 734.79 L1001.7 735.00 L1002.6 734.96 L1003.5 734.64 L1004.4 734.42 L1005.3 734.95 L1006.2 735.55 L1007.1 735.23 L1008.0 735.06 L1008.9 735.08 L1009.8 734.61 L1010.7 733.98 L1011.6 733.61 L1012.5 733.25 L1013.4 732.59 L1014.3 732.13 L1015.2 732.63 L1016.1 733.67 L1017.0 734.24 L1017.9 734.54 L1018.8 734.81 L1019.7 734.69 L1020.6 734.81 L1021.5 735.22 L1022.4 735.08 L1023.3 734.91 L1024.2 735.12 L1025.1 735.21 L1026.0 734.80 L1026.9 734.25 L1027.8 734.13 L1028.7 734.50 L1029.6 735.10 L1030.5 735.25 L1031.4 734.86 L1032.3 734.73 L1033.2 734.89 L1034.1 734.75 L1035.0 734.38 L1035.9 734.29 L1036.8 734.63 L1037.7 734.97 L1038.6 735.00 L1039.5 734.66 L1040.4 734.39 L1041.3 734.11 L1042.2 733.58 L1043.1 733.51 L1044.0 733.24 L1044.9 732.01 L1045.8 730.81 L1046.7 729.52 L1047.6 727.20 L1048.5 724.83 L1049.4 723.40 L1050.3 722.81 L1051.2 723.70 L1052.1 725.99 L1053.0 728.50 L1053.9 730.66 L1054.8 731.81 L1055.7 731.99 L1056.6 732.62 L1057.5 733.40 L1058.4 733.40 L1059.3 733.12 L1060.2 733.08 L1061.1 733.10 L1062.0 732.97 L1062.9 732.89 L1063.8 732.75 L1064.7 732.31 L1065.6 731.82 L1066.5 731.57 L1067.4 731.53 L1068.3 731.52 L1069.2 731.43 L1070.1 731.08 L1071.0 730.42 L1071.9 729.62 L1072.8 728.87 L1073.7 727.95 L1074.6 726.68 L1075.5 725.65 L1076.4 724.58 L1077.3 722.57 L1078.2 719.90 L1079.1 716.55 L1080.0 712.80 L1080.9 708.96 L1081.8 704.21 L1082.7 698.60 L1083.6 693.07 L1084.5 688.33 L1085.4 684.61 L1086.3 682.04 L1087.2 681.14 L1088.1 682.41 L1089.0 685.83 L1089.9 690.50 L1090.8 695.58 L1091.7 700.62 L1092.6 705.65 L1093.5 710.83 L1094.4 714.99 L1095.3 717.94 L1096.2 720.69 L1097.1 723.21 L1098.0 725.00 L1098.9 726.33 L1099.8 727.55 L1100.7 728.48 L1101.6 729.37 L1102.5 730.10 L1103.4 730.42 L1104.3 730.97 L1105.2 731.34 L1106.1 731.51 L1107.0 731.86 L1107.9 731.90 L1108.8 732.11 L1109.7 732.51 L1110.6 732.79 L1111.5 733.18 L1112.4 733.55 L1113.3 733.58 L1114.2 733.55 L1115.1 733.72 L1116.0 733.78 L1116.9 733.84 L1117.8 734.09 L1118.7 734.24 L1119.6 734.25 L1120.5 734.24 L1121.4 734.24 L1122.3 734.22 L1123.2 734.21 L1124.1 734.49 L1125.0 734.65 L1125.9 734.47 L1126.8 734.54 L1127.7 734.71 L1128.6 734.58 L1129.5 734.53 L1130.4 734.68 L1131.3 734.96 L1132.2 735.15 L1133.1 735.09 L1134.0 735.01 L1134.9 735.02 L1135.8 735.23 L1136.7 735.46 L1137.6 735.16 L1138.5 734.66 L1139.4 734.53 L1140.3 734.57 L1141.2 734.74 L1142.1 734.75 L1143.0 734.45 L1143.9 734.34 L1144.8 734.52 L1145.7 734.80 L1146.6 735.13 L1147.5 735.52 L1148.4 735.42 L1149.3 734.90 L1150.2 734.77 L1151.1 734.81 L1152.0 734.59 L1152.9 734.51 L1153.8 734.81 L1154.7 734.86 L1155.6 734.65 L1156.5 734.56 L1157.4 734.12 L1158.3 733.70 L1159.2 733.97 L1160.1 734.18 L1161.0 734.12 L1161.9 734.49 L1162.8 734.77 L1163.7 734.35 L1164.6 733.69 L1165.5 733.25 L1166.4 733.07 L1167.3 732.88 L1168.2 732.20 L1169.1 730.48 L1170.0 727.13 L1170.9 720.39 L1171.8 707.62 L1172.7 690.28 L1173.6 683.23 L1174.5 694.01 L1175.4 703.95 L1176.3 705.50 L1177.2 704.86 L1178.1 710.93 L1179.0 719.96 L1179.9 726.64 L1180.8 730.35 L1181.7 732.06 L1182.6 732.70 L1183.5 733.20 L1184.4 733.72 L1185.3 733.94 L1186.2 734.42 L1187.1 734.63 L1188.0 734.17 L1188.9 734.11 L1189.8 734.45 L1190.7 734.60 L1191.6 734.40 L1192.5 734.29 L1193.4 734.50 L1194.3 734.71 L1195.2 734.75 L1196.1 734.39 L1197.0 734.02 L1197.9 734.00 L1198.8 734.19 L1199.7 734.46 L1200.6 734.35 L1201.5 733.98 L1202.4 733.76 L1203.3 733.94 L1204.2 734.30 L1205.1 733.81 L1206.0 732.89 L1206.9 732.37 L1207.8 732.00 L1208.7 730.93 L1209.6 728.45 L1210.5 723.63 L1211.4 712.99 L1212.3 692.47 L1213.2 665.85 L1214.1 655.37 L1215.0 672.41 L1215.9 689.53 L1216.8 692.45 L1217.7 689.28 L1218.6 696.79 L1219.5 711.30 L1220.4 722.19 L1221.3 727.90 L1222.2 730.74 L1223.1 731.99 L1224.0 732.55 L1224.9 733.21 L1225.8 733.73 L1226.7 734.37 L1227.6 734.71 L1228.5 734.39 L1229.4 734.33 L1230.3 734.57 L1231.2 734.82 L1232.1 735.24 L1233.0 735.18 L1233.9 734.62 L1234.8 734.49 L1235.7 734.73 L1236.6 734.96 L1237.5 735.36 L1238.4 735.53 L1239.3 735.10 L1240.2 734.75 L1241.1 734.90 L1242.0 735.21 L1242.9 735.26 L1243.8 735.14 L1244.7 735.22 L1245.6 735.41 L1246.5 735.43 L1247.4 735.57 L1248.3 735.51 L1249.2 735.13 L1250.1 735.15 L1251.0 735.19 L1251.9 735.19 L1252.8 735.24 L1253.7 735.06 L1254.6 735.39 L1255.5 736.22 L1256.4 736.34 L1257.3 735.75 L1258.2 735.17 L1259.1 734.98 L1260.0 735.02 L1260.9 735.20 L1261.8 735.46 L1262.7 735.39 L1263.6 735.24 L1264.5 735.50 L1265.4 735.70 L1266.3 735.67 L1267.2 735.59 L1268.1 735.38 L1269.0 735.18 L1269.9 735.27 L1270.8 735.20 L1271.7 735.13 L1272.6 735.28 L1273.5 734.99 L1274.4 734.86 L1275.3 735.35 L1276.2 735.41 L1277.1 735.26 L1278.0 735.26 L1278.9 735.20 L1279.8 735.29 L1280.7 735.37 L1281.6 735.18 L1282.5 734.96 L1283.4 735.24 L1284.3 735.66 L1285.2 735.57 L1286.1 735.53 L1287.0 735.65 L1287.9 735.67 L1288.8 735.88 L1289.7 735.77 L1290.6 735.34 L1291.5 735.08 L1292.4 735.01 L1293.3 735.28 L1294.2 735.90 L1295.1 736.23 L1296.0 735.90 L1296.9 735.52 L1297.8 735.23 L1298.7 734.84 L1299.6 734.87 L1300.5 735.46 L1301.4 735.94 L1302.3 735.92 L1303.2 735.86 L1304.1 735.66 L1305.0 735.33 L1305.9 735.26 L1306.8 735.08 L1307.7 735.01 L1308.6 735.35 L1309.5 735.59 L1310.4 735.67 L1311.3 735.55 L1312.2 735.15 L1313.1 735.01 L1314.0 735.19 L1314.9 735.49 L1315.8 735.73 L1316.7 735.53 L1317.6 735.32 L1318.5 735.50 L1319.4 735.46 L1320.3 735.42 L1321.2 735.42 L1322.1 735.11 L1323.0 735.28 L1323.9 735.60 L1324.8 735.50 L1325.7 735.17 L1326.6 734.91 L1327.5 735.18 L1328.4 735.37 L1329.3 735.22 L1330.2 735.27 L1331.1 735.32 L1332.0 735.38 L1332.9 735.46 L1333.8 735.47 L1334.7 735.47 L1335.6 735.56 L1336.5 735.78 L1337.4 735.52 L1338.3 735.01 L1339.2 735.10 L1340.1 735.64 L1341.0 735.77 L1341.9 735.44 L1342.8 735.24 L1343.7 735.39 L1344.6 735.72 L1345.5 735.61 L1346.4 735.49 L1347.3 735.32 L1348.2 734.89 L1349.1 734.92 L1350.0 735.04 L1350.9 735.11 L1351.8 735.02 L1352.7 734.89 L1353.6 735.02 L1354.5 735.42 L1355.4 735.75 L1356.3 735.72 L1357.2 735.84 L1358.1 735.69 L1359.0 735.03 L1359.9 734.79 L1360.8 735.15 L1361.7 735.09 L1362.6 735.01 L1363.5 735.48 L1364.4 735.39 L1365.3 735.18 L1366.2 735.40 L1367.1 735.40 L1368.0 735.14 L1368.9 734.97 L1369.8 734.62 L1370.7 734.13 L1371.6 734.13 L1372.5 734.69 L1373.4 735.14 L1374.3 734.73 L1375.2 734.15 L1376.1 733.85 L1377.0 733.58 L1377.9 733.29 L1378.8 732.81 L1379.7 732.27 L1380.6 731.50 L1381.5 730.30 L1382.4 728.82 L1383.3 727.03 L1384.2 725.12 L1385.1 723.25 L1386.0 721.16 L1386.9 719.00 L1387.8 717.22 L1388.7 716.03 L1389.6 715.59 L1390.5 716.31 L1391.4 718.19 L1392.3 720.15 L1393.2 721.90 L1394.1 724.04 L1395.0 726.02 L1395.9 727.66 L1396.8 729.26 L1397.7 730.68 L1398.6 731.70 L1399.5 732.22 L1400.4 732.62 L1401.3 732.82 L1402.2 733.15 L1403.1 733.79 L1404.0 734.22 L1404.9 734.54 L1405.8 734.38 L1406.7 734.14 L1407.6 734.35 L1408.5 734.26 L1409.4 734.14 L1410.3 734.32 L1411.2 734.59 L1412.1 734.69 L1413.0 734.92 L1413.9 735.11 L1414.8 734.65 L1415.7 734.19 L1416.6 734.34 L1417.5 734.54 L1418.4 734.15 L1419.3 733.71 L1420.2 733.30 L1421.1 732.48 L1422.0 730.37 L1422.9 725.43 L1423.8 717.57 L1424.7 709.91 L1425.6 709.94 L1426.5 715.94 L1427.4 720.41 L1428.3 721.66 L1429.2 720.88 L1430.1 719.60 L1431.0 719.30 L1431.9 720.03 L1432.8 720.71 L1433.7 721.97 L1434.6 723.99 L1435.5 725.39 L1436.4 727.06 L1437.3 729.21 L1438.2 730.84 L1439.1 732.06 L1440.0 732.97 L1440.9 733.78 L1441.8 734.32 L1442.7 734.66 L1443.6 734.81 L1444.5 734.64 L1445.4 734.67 L1446.3 734.88 L1447.2 734.99 L1448.1 735.16 L1449.0 735.24 L1449.9 735.03 L1450.8 735.08 L1451.7 735.76 L1452.6 736.22 L1453.5 735.93 L1454.4 735.52 L1455.3 735.17 L1456.2 735.12 L1457.1 735.61 L1458.0 735.85 L1458.9 735.63 L1459.8 735.46 L1460.7 735.19 L1461.6 734.91 L1462.5 734.84 L1463.4 734.91 L1464.3 735.12 L1465.2 735.41 L1466.1 735.84 L1467.0 735.84 L1467.9 735.46 L1468.8 735.30 L1469.7 735.39 L1470.6 735.82 L1471.5 735.96 L1472.4 735.32 L1473.3 734.64 L1474.2 734.42 L1475.1 734.44 L1476.0 734.32 L1476.9 733.91 L1477.8 733.39 L1478.7 732.90 L1479.6 732.22 L1480.5 731.17 L1481.4 730.02 L1482.3 728.93 L1483.2 727.81 L1484.1 726.85 L1485.0 726.03 L1485.9 725.22 L1486.8 724.23 L1487.7 723.29 L1488.6 723.21 L1489.5 723.56 L1490.4 723.75 L1491.3 724.37 L1492.2 725.26 L1493.1 726.28 L1494.0 727.39 L1494.9 728.40 L1495.8 729.48 L1496.7 730.56 L1497.6 731.53 L1498.5 732.15 L1499.4 732.69 L1500.3 733.42 L1501.2 733.94 L1502.1 734.05 L1503.0 734.26 L1503.9 734.56 L1504.8 734.58 L1505.7 734.69 L1506.6 735.01 L1507.5 735.31 L1508.4 735.50 L1509.3 735.22 L1510.2 734.73 L1511.1 734.59 L1512.0 734.68 L1512.9 735.15 L1513.8 735.35 L1514.7 734.79 L1515.6 733.96 L1516.5 732.84 L1517.4 731.89 L1518.3 730.51 L1519.2 728.18 L1520.1 726.32 L1521.0 726.21 L1521.9 727.48 L1522.8 728.76 L1523.7 729.47 L1524.6 729.76 L1525.5 730.03 L1526.4 730.54 L1527.3 731.42 L1528.2 732.66 L1529.1 733.77 L1530.0 734.75 L1530.9 735.38 L1531.8 735.36 L1532.7 735.16 L1533.6 735.01 L1534.5 734.82 L1535.4 734.83 L1536.3 735.04 L1537.2 735.26 L1538.1 735.44 L1539.0 735.56 L1539.9 735.70 L1540.8 735.55 L1541.7 735.24 L1542.6 734.90 L1543.5 734.89 L1544.4 735.42 L1545.3 735.32 L1546.2 734.98 L1547.1 735.12 L1548.0 735.03 L1548.9 734.97 L1549.8 735.06 L1550.7 735.20 L1551.6 735.40 L1552.5 735.23 L1553.4 735.11 L1554.3 735.24 L1555.2 735.16 L1556.1 735.31 L1557.0 735.90 L1557.9 735.87 L1558.8 735.04 L1559.7 734.71 L1560.6 735.14 L1561.5 735.45 L1562.4 735.44 L1563.3 735.37 L1564.2 735.27 L1565.1 735.22 L1566.0 734.98 L1566.9 734.74 L1567.8 735.04 L1568.7 735.44 L1569.6 735.57 L1570.5 735.59 L1571.4 735.32 L1572.3 735.04 L1573.2 735.26 L1574.1 735.67 L1575.0 735.96 L1575.9 735.93 L1576.8 735.61 L1577.7 735.53 L1578.6 735.50 L1579.5 735.09 L1580.4 734.85 L1581.3 734.99 L1582.2 735.37 L1583.1 735.55 L1584.0 735.61 L1584.9 735.80 L1585.8 735.77 L1586.7 735.76 L1587.6 735.64 L1588.5 735.41 L1589.4 735.25 L1590.3 735.22 L1591.2 735.45 L1592.1 735.57 L1593.0 735.45 L1593.9 735.76 L1594.8 736.02 L1595.7 735.60 L1596.6 735.39 L1597.5 735.18 L1598.4 734.81 L1599.3 735.11 L1600.2 735.48 L1601.1 735.25 L1602.0 735.05 L1602.9 735.31 L1603.8 735.62 L1604.7 735.51 L1605.6 735.16 L1606.5 734.95 L1607.4 734.69 L1608.3 734.30 L1609.2 733.97 L1610.1 733.59 L1611.0 733.09 L1611.9 732.62 L1612.8 731.99 L1613.7 730.89 L1614.6 730.02 L1615.5 730.26 L1616.4 731.36 L1617.3 732.02 L1618.2 731.87 L1619.1 731.74 L1620.0 731.91 L1620.9 732.09 L1621.8 732.44 L1622.7 733.21 L1623.6 734.06 L1624.5 734.72 L1625.4 734.95 L1626.3 735.12 L1627.2 735.48 L1628.1 735.54 L1629.0 735.29 L1629.9 735.04 L1630.8 735.10 L1631.7 735.46 L1632.6 735.53 L1633.5 735.43 L1634.4 735.30 L1635.3 735.27 L1636.2 735.61 L1637.1 735.88 L1638.0 735.74 L1638.9 735.41 L1639.8 735.31 L1640.7 735.49 L1641.6 736.02 L1642.5 736.26 L1643.4 735.83 L1644.3 735.74 L1645.2 735.74 L1646.1 735.38 L1647.0 735.29 L1647.9 735.37 L1648.8 735.26 L1649.7 734.96 L1650.6 734.74 L1651.5 734.94 L1652.4 735.33 L1653.3 735.57 L1654.2 735.68 L1655.1 735.73 L1656.0 735.70 L1656.9 735.56 L1657.8 735.45 L1658.7 735.35 L1659.6 735.16 L1660.5 735.02 L1661.4 735.27 L1662.3 735.21 L1663.2 734.35 L1664.1 733.84 L1665.0 733.49 L1665.9 732.72 L1666.8 731.90 L1667.7 731.01 L1668.6 730.37 L1669.5 730.26 L1670.4 730.22 L1671.3 730.26 L1672.2 730.48 L1673.1 730.77 L1674.0 731.65 L1674.9 732.29 L1675.8 732.20 L1676.7 732.67 L1677.6 733.17 L1678.5 732.98 L1679.4 733.15 L1680.3 733.63 L1681.2 734.27 L1682.1 735.08 L1683.0 735.29 L1683.9 735.24 L1684.8 735.23 L1685.7 734.95 L1686.6 735.14 L1687.5 735.91 L1688.4 736.29 L1689.3 736.15 L1690.2 735.84 L1691.1 735.72 L1692.0 735.76 L1692.9 735.77 L1693.8 735.84 L1694.7 735.79 L1695.6 735.48 L1696.5 735.15 L1697.4 735.32 L1698.3 735.45 L1699.2 735.25 L1700.1 735.46 L1701.0 735.62 L1701.9 735.39 L1702.8 735.21 L1703.7 735.00 L1704.6 734.76 L1705.5 735.23 L1706.4 735.73 L1707.3 735.41 L1708.2 735.07 L1709.1 735.31 L1710.0 735.75 L1710.9 735.60 L1711.8 735.47 L1712.7 735.58 L1713.6 735.83 L1714.5 736.24 L1715.4 735.99 L1716.3 735.27 L1717.2 734.99 L1718.1 735.18 L1719.0 735.39 L1719.9 735.51 L1720.8 735.31 L1721.7 735.17 L1722.6 735.44 L1723.5 735.43 L1724.4 735.19 L1725.3 735.06 L1726.2 734.98 L1727.1 735.02 L1728.0 734.98 L1728.9 734.70 L1729.8 734.56 L1730.7 734.57 L1731.6 734.50 L1732.5 734.08 L1733.4 732.90 L1734.3 730.60 L1735.2 728.00 L1736.1 725.73 L1737.0 723.62 L1737.9 723.42 L1738.8 725.77 L1739.7 728.28 L1740.6 729.60 L1741.5 729.90 L1742.4 729.32 L1743.3 728.72 L1744.2 728.96 L1745.1 729.99 L1746.0 731.32 L1746.9 732.72 L1747.8 733.98 L1748.7 734.93 L1749.6 735.35 L1750.5 735.04 L1751.4 734.85 L1752.3 734.97 L1753.2 734.85 L1754.1 734.72 L1755.0 734.83 L1755.9 735.04 L1756.8 735.13 L1757.7 735.18" fill="none" stroke="#000" stroke-width="3" stroke-linejoin="round" stroke-linecap="butt" shape-rendering="crispEdges"/>
<path transform="scale(1 1.3333)" d="M57.6 963.17 L58.5 963.40 L59.4 963.49 L60.3 963.68 L61.2 963.92 L62.1 963.97 L63.0 964.06 L63.9 964.17 L64.8 963.99 L65.7 963.49 L66.6 963.22 L67.5 963.41 L68.4 963.76 L69.3 963.99 L70.2 964.15 L71.1 964.17 L72.0 964.35 L72.9 964.69 L73.8 964.52 L74.7 964.08 L75.6 964.08 L76.5 964.53 L77.4 964.53 L78.3 964.14 L79.2 964.22 L80.1 964.24 L81.0 964.03 L81.9 964.40 L82.8 964.67 L83.7 964.42 L84.6 964.81 L85.5 965.16 L86.4 964.76 L87.3 964.61 L88.2 964.89 L89.1 965.09 L90.0 964.90 L90.9 964.53 L91.8 964.63 L92.7 964.95 L93.6 965.18 L94.5 965.36 L95.4 965.21 L96.3 965.35 L97.2 965.71 L98.1 965.43 L99.0 965.12 L99.9 965.27 L100.8 965.51 L101.7 965.73 L102.6 965.73 L103.5 965.54 L104.4 965.45 L105.3 965.69 L106.2 966.29 L107.1 966.49 L108.0 966.16 L108.9 966.08 L109.8 966.04 L110.7 965.83 L111.6 965.77 L112.5 965.63 L113.4 965.46 L114.3 965.78 L115.2 966.35 L116.1 966.53 L117.0 966.32 L117.9 966.31 L118.8 966.78 L119.7 966.94 L120.6 966.42 L121.5 966.16 L122.4 966.44 L123.3 966.60 L124.2 966.59 L125.1 966.64 L126.0 966.71 L126.9 966.83 L127.8 966.80 L128.7 966.86 L129.6 966.95 L130.5 966.70 L131.4 966.79 L132.3 967.28 L133.2 967.46 L134.1 967.05 L135.0 966.78 L135.9 967.22 L136.8 967.46 L137.7 967.07 L138.6 966.97 L139.5 967.65 L140.4 968.12 L141.3 968.05 L142.2 967.87 L143.1 967.60 L144.0 967.48 L144.9 967.34 L145.8 967.24 L146.7 967.33 L147.6 967.33 L148.5 967.32 L149.4 967.41 L150.3 967.54 L151.2 967.70 L152.1 967.68 L153.0 967.60 L153.9 967.58 L154.8 967.50 L155.7 967.74 L156.6 967.70 L157.5 967.37 L158.4 967.78 L159.3 968.35 L160.2 968.27 L161.1 967.97 L162.0 967.97 L162.9 968.18 L163.8 968.37 L164.7 968.46 L165.6 968.50 L166.5 968.57 L167.4 968.41 L168.3 968.04 L169.2 967.91 L170.1 968.15 L171.0 968.32 L171.9 968.37 L172.8 968.37 L173.7 968.16 L174.6 968.11 L175.5 968.29 L176.4 968.53 L177.3 968.63 L178.2 968.42 L179.1 968.18 L180.0 968.18 L180.9 968.52 L181.8 968.80 L182.7 968.76 L183.6 968.92 L184.5 968.98 L185.4 968.64 L186.3 968.31 L187.2 968.17 L188.1 968.59 L189.0 968.92 L189.9 968.83 L190.8 969.03 L191.7 969.28 L192.6 969.15 L193.5 969.00 L194.4 968.97 L195.3 968.88 L196.2 969.22 L197.1 969.63 L198.0 969.25 L198.9 968.96 L199.8 969.19 L200.7 969.42 L201.6 969.38 L202.5 969.04 L203.4 968.80 L204.3 969.02 L205.2 969.55 L206.1 969.64 L207.0 969.26 L207.9 969.17 L208.8 969.23 L209.7 969.13 L210.6 969.33 L211.5 969.50 L212.4 969.35 L213.3 969.61 L214.2 969.75 L215.1 969.56 L216.0 969.71 L216.9 969.65 L217.8 969.56 L218.7 969.76 L219.6 969.70 L220.5 969.47 L221.4 969.31 L222.3 969.23 L223.2 969.31 L224.1 969.55 L225.0 969.70 L225.9 969.59 L226.8 969.46 L227.7 969.41 L228.6 969.40 L229.5 969.45 L230.4 969.47 L231.3 968.98 L232.2 968.34 L233.1 968.18 L234.0 968.13 L234.9 967.85 L235.8 967.17 L236.7 965.99 L237.6 962.92 L238.5 954.55 L239.4 935.22 L240.3 900.35 L241.2 858.86 L242.1 838.03 L243.0 853.19 L243.9 890.64 L244.8 927.34 L245.7 950.37 L246.6 960.74 L247.5 964.42 L248.4 966.12 L249.3 967.38 L250.2 968.16 L251.1 968.67 L252.0 969.12 L252.9 969.22 L253.8 969.12 L254.7 969.34 L255.6 969.40 L256.5 969.54 L257.4 969.73 L258.3 969.54 L259.2 969.67 L260.1 970.10 L261.0 970.18 L261.9 969.97 L262.8 970.16 L263.7 970.40 L264.6 970.34 L265.5 970.31 L266.4 970.11 L267.3 969.89 L268.2 969.80 L269.1 969.96 L270.0 970.55 L270.9 970.65 L271.8 970.40 L272.7 970.61 L273.6 970.44 L274.5 970.04 L275.4 970.26 L276.3 970.63 L277.2 970.52 L278.1 970.42 L279.0 970.65 L279.9 970.63 L280.8 970.36 L281.7 970.38 L282.6 970.80 L283.5 970.89 L284.4 970.55 L285.3 970.52 L286.2 970.70 L287.1 970.67 L288.0 970.81 L288.9 971.25 L289.8 971.30 L290.7 971.09 L291.6 971.19 L292.5 971.46 L293.4 971.07 L294.3 970.65 L295.2 970.96 L296.1 970.94 L297.0 970.69 L297.9 970.72 L298.8 970.86 L299.7 971.17 L300.6 971.10 L301.5 970.85 L302.4 971.19 L303.3 971.11 L304.2 970.75 L305.1 971.21 L306.0 971.57 L306.9 971.62 L307.8 971.62 L308.7 971.23 L309.6 971.00 L310.5 971.16 L311.4 971.27 L312.3 971.02 L313.2 970.64 L314.1 971.18 L315.0 971.93 L315.9 971.84 L316.8 971.64 L317.7 971.48 L318.6 971.38 L319.5 971.60 L320.4 971.60 L321.3 971.34 L322.2 971.37 L323.1 971.43 L324.0 971.17 L324.9 971.24 L325.8 971.77 L326.7 971.87 L327.6 971.76 L328.5 971.96 L329.4 971.96 L330.3 971.65 L331.2 971.53 L332.1 971.59 L333.0 971.49 L333.9 971.38 L334.8 971.55 L335.7 971.83 L336.6 971.79 L337.5 971.71 L338.4 972.12 L339.3 972.50 L340.2 972.04 L341.1 971.40 L342.0 971.49 L342.9 971.64 L343.8 971.44 L344.7 971.61 L345.6 972.14 L346.5 972.28 L347.4 972.14 L348.3 972.10 L349.2 972.12 L350.1 972.06 L351.0 971.90 L351.9 971.67 L352.8 971.46 L353.7 971.52 L354.6 971.63 L355.5 971.67 L356.4 971.73 L357.3 971.80 L358.2 971.81 L359.1 971.69 L360.0 971.99 L360.9 972.42 L361.8 972.27 L362.7 972.11 L363.6 972.25 L364.5 972.21 L365.4 972.09 L366.3 971.81 L367.2 971.63 L368.1 972.01 L369.0 972.32 L369.9 972.18 L370.8 972.01 L371.7 972.07 L372.6 971.86 L373.5 971.56 L374.4 971.68 L375.3 971.92 L376.2 972.13 L377.1 972.41 L378.0 972.49 L378.9 972.36 L379.8 972.02 L380.7 971.61 L381.6 971.58 L382.5 972.09 L383.4 972.68 L384.3 972.50 L385.2 972.01 L386.1 972.20 L387.0 972.35 L387.9 972.11 L388.8 972.06 L389.7 972.13 L390.6 972.27 L391.5 972.34 L392.4 972.25 L393.3 972.17 L394.2 972.16 L395.1 971.87 L396.0 971.59 L396.9 972.20 L397.8 972.53 L398.7 972.14 L399.6 972.24 L400.5 972.42 L401.4 972.19 L402.3 972.10 L403.2 972.37 L404.1 972.38 L405.0 972.14 L405.9 972.32 L406.8 972.36 L407.7 972.09 L408.6 972.41 L409.5 972.75 L410.4 972.51 L411.3 972.49 L412.2 972.61 L413.1 972.34 L414.0 972.37 L414.9 972.87 L415.8 972.79 L416.7 972.21 L417.6 972.15 L418.5 972.53 L419.4 972.70 L420.3 972.44 L421.2 972.22 L422.1 972.03 L423.0 971.71 L423.9 971.99 L424.8 972.48 L425.7 972.54 L426.6 972.14 L427.5 971.83 L428.4 971.98 L429.3 971.87 L430.2 971.86 L431.1 971.83 L432.0 971.71 L432.9 972.17 L433.8 972.30 L434.7 971.90 L435.6 971.64 L436.5 971.60 L437.4 971.52 L438.3 971.02 L439.2 970.60 L440.1 970.65 L441.0 970.71 L441.9 970.50 L442.8 970.07 L443.7 969.50 L444.6 968.66 L445.5 967.42 L446.4 966.37 L447.3 965.42 L448.2 963.84 L449.1 961.11 L450.0 956.13 L450.9 946.35 L451.8 925.11 L452.7 883.72 L453.6 823.99 L454.5 777.30 L455.4 780.65 L456.3 816.70 L457.2 868.61 L458.1 913.03 L459.0 939.67 L459.9 952.98 L460.8 959.00 L461.7 962.16 L462.6 964.78 L463.5 966.51 L464.4 967.16 L465.3 967.58 L466.2 968.35 L467.1 969.05 L468.0 969.39 L468.9 969.37 L469.8 969.39 L470.7 970.01 L471.6 970.49 L472.5 970.67 L473.4 970.75 L474.3 970.72 L475.2 970.53 L476.1 970.22 L477.0 970.21 L477.9 970.37 L478.8 970.33 L479.7 969.91 L480.6 969.48 L481.5 969.41 L482.4 969.31 L483.3 969.07 L484.2 969.02 L485.1 968.75 L486.0 968.12 L486.9 967.43 L487.8 966.95 L488.7 966.61 L489.6 965.44 L490.5 963.81 L491.4 962.21 L492.3 959.90 L493.2 956.97 L494.1 952.85 L495.0 946.71 L495.9 938.78 L496.8 928.92 L497.7 916.71 L498.6 902.69 L499.5 888.54 L500.4 877.68 L501.3 874.18 L502.2 879.28 L503.1 890.60 L504.0 904.20 L504.9 917.36 L505.8 928.74 L506.7 937.70 L507.6 944.01 L508.5 947.48 L509.4 946.86 L510.3 939.88 L511.2 924.35 L512.1 902.22 L513.0 889.05 L513.9 895.15 L514.8 910.28 L515.7 930.17 L516.6 946.77 L517.5 956.90 L518.4 962.28 L519.3 964.72 L520.2 966.36 L521.1 967.97 L522.0 968.88 L522.9 969.03 L523.8 969.06 L524.7 969.46 L525.6 969.85 L526.5 970.13 L527.4 970.53 L528.3 971.03 L529.2 971.34 L530.1 971.25 L531.0 971.13 L531.9 971.37 L532.8 971.74 L533.7 971.84 L534.6 971.63 L535.5 971.52 L536.4 971.50 L537.3 971.59 L538.2 971.83 L539.1 971.98 L540.0 972.24 L540.9 972.33 L541.8 972.20 L542.7 972.16 L543.6 972.19 L544.5 972.33 L545.4 972.58 L546.3 972.68 L547.2 972.64 L548.1 972.81 L549.0 972.89 L549.9 972.59 L550.8 972.20 L551.7 972.19 L552.6 972.51 L553.5 972.52 L554.4 972.59 L555.3 973.00 L556.2 972.96 L557.1 972.78 L558.0 972.76 L558.9 972.35 L559.8 972.10 L560.7 972.37 L561.6 972.58 L562.5 972.73 L563.4 972.65 L564.3 972.32 L565.2 972.52 L566.1 973.14 L567.0 973.32 L567.9 973.02 L568.8 972.91 L569.7 972.99 L570.6 973.32 L571.5 973.82 L572.4 973.58 L573.3 972.90 L574.2 972.88 L575.1 973.23 L576.0 973.32 L576.9 973.31 L577.8 973.08 L578.7 972.59 L579.6 972.26 L580.5 972.24 L581.4 972.56 L582.3 972.82 L583.2 973.04 L584.1 973.10 L585.0 972.65 L585.9 972.68 L586.8 973.30 L587.7 973.30 L588.6 972.81 L589.5 972.80 L590.4 972.69 L591.3 972.38 L592.2 972.64 L593.1 972.73 L594.0 972.64 L594.9 972.77 L595.8 972.55 L596.7 972.40 L597.6 972.47 L598.5 972.33 L599.4 971.90 L600.3 971.45 L601.2 971.58 L602.1 971.79 L603.0 971.83 L603.9 972.04 L604.8 972.01 L605.7 971.67 L606.6 971.51 L607.5 971.58 L608.4 971.59 L609.3 971.48 L610.2 971.36 L611.1 970.98 L612.0 970.46 L612.9 970.42 L613.8 970.49 L614.7 970.62 L615.6 970.73 L616.5 970.34 L617.4 969.65 L618.3 969.01 L619.2 968.78 L620.1 968.38 L621.0 967.25 L621.9 966.05 L622.8 964.97 L623.7 964.31 L624.6 963.54 L625.5 961.85 L626.4 960.19 L627.3 958.42 L628.2 955.74 L629.1 952.26 L630.0 947.99 L630.9 942.17 L631.8 934.02 L632.7 923.23 L633.6 907.74 L634.5 884.55 L635.4 850.25 L636.3 799.70 L637.2 732.51 L638.1 671.82 L639.0 656.14 L639.9 680.88 L640.8 724.74 L641.7 781.40 L642.6 835.17 L643.5 875.11 L644.4 901.56 L645.3 919.00 L646.2 930.94 L647.1 939.86 L648.0 946.43 L648.9 951.07 L649.8 954.57 L650.7 957.23 L651.6 959.42 L652.5 961.12 L653.4 962.78 L654.3 964.42 L655.2 965.52 L656.1 966.73 L657.0 967.96 L657.9 968.37 L658.8 968.39 L659.7 968.67 L660.6 969.07 L661.5 969.69 L662.4 970.34 L663.3 970.12 L664.2 968.92 L665.1 967.84 L666.0 966.77 L666.9 965.62 L667.8 965.55 L668.7 966.63 L669.6 968.50 L670.5 970.13 L671.4 970.87 L672.3 971.50 L673.2 972.27 L674.1 972.70 L675.0 973.10 L675.9 973.45 L676.8 973.15 L677.7 973.11 L678.6 973.91 L679.5 974.22 L680.4 973.60 L681.3 973.27 L682.2 973.43 L683.1 973.73 L684.0 973.82 L684.9 973.61 L685.8 973.50 L686.7 973.58 L687.6 973.77 L688.5 973.93 L689.4 974.00 L690.3 974.01 L691.2 973.83 L692.1 973.57 L693.0 973.65 L693.9 973.94 L694.8 973.97 L695.7 973.79 L696.6 973.94 L697.5 974.28 L698.4 974.04 L699.3 973.46 L700.2 972.96 L701.1 972.37 L702.0 971.73 L702.9 971.23 L703.8 971.40 L704.7 972.07 L705.6 972.81 L706.5 973.80 L707.4 974.55 L708.3 974.50 L709.2 974.20 L710.1 974.44 L711.0 974.84 L711.9 974.87 L712.8 974.83 L713.7 974.92 L714.6 974.98 L715.5 974.65 L716.4 974.42 L717.3 975.00 L718.2 975.58 L719.1 975.46 L720.0 975.44 L720.9 975.44 L721.8 974.90 L722.7 974.58 L723.6 974.83 L724.5 975.33 L725.4 975.72 L726.3 975.59 L727.2 975.41 L728.1 975.52 L729.0 975.44 L729.9 975.24 L730.8 975.04 L731.7 974.89 L732.6 974.89 L733.5 974.65 L734.4 974.44 L735.3 974.92 L736.2 975.46 L737.1 975.18 L738.0 974.89 L738.9 975.46 L739.8 975.94 L740.7 975.93 L741.6 976.04 L742.5 975.56 L743.4 974.95 L744.3 975.48 L745.2 976.07 L746.1 975.67 L747.0 975.24 L747.9 975.57 L748.8 975.66 L749.7 975.26 L750.6 975.36 L751.5 975.74 L752.4 975.77 L753.3 975.43 L754.2 975.31 L755.1 975.60 L756.0 975.67 L756.9 975.48 L757.8 975.49 L758.7 975.61 L759.6 975.79 L760.5 975.99 L761.4 975.89 L762.3 975.96 L763.2 976.04 L764.1 975.77 L765.0 975.70 L765.9 975.83 L766.8 975.60 L767.7 975.34 L768.6 975.51 L769.5 975.44 L770.4 975.29 L771.3 975.37 L772.2 975.23 L773.1 975.35 L774.0 975.33 L774.9 975.05 L775.8 975.12 L776.7 975.29 L777.6 975.42 L778.5 975.45 L779.4 975.57 L780.3 975.81 L781.2 975.77 L782.1 975.69 L783.0 975.61 L783.9 975.09 L784.8 974.92 L785.7 975.05 L786.6 974.81 L787.5 974.89 L788.4 975.16 L789.3 975.01 L790.2 975.20 L791.1 975.79 L792.0 975.89 L792.9 975.68 L793.8 975.78 L794.7 975.90 L795.6 975.74 L796.5 975.41 L797.4 975.06 L798.3 975.22 L799.2 975.78 L800.1 975.83 L801.0 975.55 L801.9 975.59 L802.8 975.84 L803.7 975.86 L804.6 975.48 L805.5 975.33 L806.4 975.52 L807.3 975.31 L808.2 975.24 L809.1 975.91 L810.0 976.21 L810.9 975.83 L811.8 975.51 L812.7 975.40 L813.6 975.31 L814.5 975.19 L815.4 975.07 L816.3 975.05 L817.2 975.16 L818.1 975.33 L819.0 975.48 L819.9 975.39 L820.8 975.25 L821.7 975.26 L822.6 975.04 L823.5 974.99 L824.4 975.05 L825.3 974.85 L826.2 974.72 L827.1 974.60 L828.0 974.86 L828.9 975.33 L829.8 975.23 L830.7 974.70 L831.6 974.73 L832.5 975.20 L833.4 975.28 L834.3 974.89 L835.2 974.49 L836.1 974.59 L837.0 974.27 L837.9 973.61 L838.8 973.58 L839.7 973.55 L840.6 972.63 L841.5 971.05 L842.4 969.62 L843.3 967.37 L844.2 961.37 L845.1 949.00 L846.0 928.82 L846.9 905.28 L847.8 895.61 L848.7 904.68 L849.6 914.92 L850.5 925.12 L851.4 940.48 L852.3 954.38 L853.2 963.56 L854.1 968.71 L855.0 971.26 L855.9 972.27 L856.8 972.24 L857.7 972.35 L858.6 972.97 L859.5 973.73 L860.4 974.17 L861.3 974.08 L862.2 974.12 L863.1 974.40 L864.0 974.91 L864.9 975.30 L865.8 975.27 L866.7 975.73 L867.6 975.97 L868.5 975.44 L869.4 975.16 L870.3 975.13 L871.2 975.04 L872.1 974.92 L873.0 974.99 L873.9 975.43 L874.8 975.59 L875.7 975.44 L876.6 975.49 L877.5 975.34 L878.4 975.23 L879.3 975.37 L880.2 975.64 L881.1 976.09 L882.0 976.28 L882.9 976.17 L883.8 975.76 L884.7 975.24 L885.6 975.22 L886.5 975.69 L887.4 975.91 L888.3 975.76 L889.2 975.54 L890.1 975.18 L891.0 975.17 L891.9 975.59 L892.8 975.98 L893.7 976.03 L894.6 975.84 L895.5 975.58 L896.4 975.10 L897.3 975.12 L898.2 976.05 L899.1 976.65 L900.0 976.22 L900.9 975.73 L901.8 975.48 L902.7 975.20 L903.6 975.30 L904.5 975.70 L905.4 975.99 L906.3 976.02 L907.2 975.76 L908.1 975.37 L909.0 975.28 L909.9 975.50 L910.8 975.79 L911.7 975.83 L912.6 975.44 L913.5 975.34 L914.4 975.77 L915.3 975.76 L916.2 975.91 L917.1 976.48 L918.0 976.36 L918.9 975.94 L919.8 975.63 L920.7 975.23 L921.6 975.30 L922.5 975.59 L923.4 975.48 L924.3 975.21 L925.2 975.02 L926.1 975.06 L927.0 975.17 L927.9 975.49 L928.8 975.85 L929.7 975.66 L930.6 975.59 L931.5 975.68 L932.4 975.55 L933.3 975.26 L934.2 974.89 L935.1 975.04 L936.0 975.27 L936.9 975.17 L937.8 975.18 L938.7 975.19 L939.6 975.34 L940.5 975.36 L941.4 974.88 L942.3 974.41 L943.2 974.37 L944.1 974.56 L945.0 974.33 L945.9 974.10 L946.8 974.45 L947.7 974.50 L948.6 974.00 L949.5 973.62 L950.4 973.13 L951.3 972.45 L952.2 971.98 L953.1 971.36 L954.0 970.07 L954.9 968.19 L955.8 965.88 L956.7 962.22 L957.6 954.35 L958.5 937.08 L959.4 905.39 L960.3 861.71 L961.2 829.04 L962.1 836.25 L963.0 859.31 L963.9 873.33 L964.8 889.55 L965.7 916.00 L966.6 939.80 L967.5 955.22 L968.4 963.23 L969.3 967.00 L970.2 969.06 L971.1 970.34 L972.0 971.38 L972.9 972.21 L973.8 972.80 L974.7 973.37 L975.6 973.63 L976.5 973.70 L977.4 973.73 L978.3 973.56 L979.2 974.11 L980.1 975.07 L981.0 975.14 L981.9 975.19 L982.8 975.40 L983.7 974.98 L984.6 974.65 L985.5 974.77 L986.4 974.95 L987.3 974.72 L988.2 974.36 L989.1 974.48 L990.0 974.95 L990.9 975.39 L991.8 975.58 L992.7 975.60 L993.6 975.42 L994.5 975.46 L995.4 975.66 L996.3 975.49 L997.2 975.32 L998.1 975.21 L999.0 975.15 L999.9 975.14 L1000.8 975.22 L1001.7 975.49 L1002.6 975.62 L1003.5 975.80 L1004.4 975.93 L1005.3 975.72 L1006.2 975.53 L1007.1 975.34 L1008.0 975.12 L1008.9 974.73 L1009.8 974.08 L1010.7 973.87 L1011.6 973.62 L1012.5 972.87 L1013.4 972.63 L1014.3 972.74 L1015.2 972.73 L1016.1 973.17 L1017.0 974.27 L1017.9 975.23 L1018.8 975.19 L1019.7 975.01 L1020.6 975.34 L1021.5 975.51 L1022.4 975.60 L1023.3 975.59 L1024.2 975.68 L1025.1 975.67 L1026.0 975.45 L1026.9 975.57 L1027.8 975.61 L1028.7 975.50 L1029.6 975.35 L1030.5 975.04 L1031.4 974.84 L1032.3 975.11 L1033.2 975.29 L1034.1 975.23 L1035.0 975.47 L1035.9 975.26 L1036.8 974.75 L1037.7 974.84 L1038.6 975.00 L1039.5 974.89 L1040.4 974.92 L1041.3 974.81 L1042.2 974.43 L1043.1 974.05 L1044.0 973.33 L1044.9 972.32 L1045.8 971.09 L1046.7 969.08 L1047.6 966.66 L1048.5 963.94 L1049.4 961.65 L1050.3 961.59 L1051.2 963.33 L1052.1 965.75 L1053.0 968.30 L1053.9 970.38 L1054.8 971.60 L1055.7 972.17 L1056.6 972.83 L1057.5 973.40 L1058.4 973.55 L1059.3 973.50 L1060.2 973.62 L1061.1 973.91 L1062.0 973.82 L1062.9 973.70 L1063.8 973.53 L1064.7 973.02 L1065.6 972.58 L1066.5 972.42 L1067.4 972.62 L1068.3 972.70 L1069.2 972.02 L1070.1 971.30 L1071.0 971.21 L1071.9 970.87 L1072.8 969.66 L1073.7 968.09 L1074.6 966.80 L1075.5 965.59 L1076.4 964.06 L1077.3 962.46 L1078.2 960.39 L1079.1 957.35 L1080.0 953.52 L1080.9 949.17 L1081.8 944.21 L1082.7 938.52 L1083.6 933.05 L1084.5 928.56 L1085.4 924.09 L1086.3 920.69 L1087.2 920.34 L1088.1 922.03 L1089.0 925.44 L1089.9 930.35 L1090.8 935.40 L1091.7 940.69 L1092.6 946.17 L1093.5 950.94 L1094.4 954.77 L1095.3 958.12 L1096.2 961.08 L1097.1 963.78 L1098.0 966.14 L1098.9 967.65 L1099.8 968.57 L1100.7 969.23 L1101.6 970.02 L1102.5 971.09 L1103.4 971.87 L1104.3 972.36 L1105.2 972.60 L1106.1 972.70 L1107.0 972.72 L1107.9 972.87 L1108.8 973.54 L1109.7 973.86 L1110.6 973.80 L1111.5 974.02 L1112.4 974.14 L1113.3 974.00 L1114.2 973.89 L1115.1 973.86 L1116.0 974.27 L1116.9 974.93 L1117.8 975.12 L1118.7 975.09 L1119.6 975.21 L1120.5 975.09 L1121.4 974.99 L1122.3 975.12 L1123.2 975.10 L1124.1 975.13 L1125.0 975.16 L1125.9 975.20 L1126.8 975.55 L1127.7 975.53 L1128.6 975.35 L1129.5 975.34 L1130.4 975.00 L1131.3 974.85 L1132.2 975.22 L1133.1 975.44 L1134.0 975.22 L1134.9 975.41 L1135.8 975.98 L1136.7 975.80 L1137.6 975.33 L1138.5 975.51 L1139.4 975.81 L1140.3 975.58 L1141.2 975.63 L1142.1 976.34 L1143.0 976.21 L1143.9 975.61 L1144.8 975.79 L1145.7 975.87 L1146.6 975.53 L1147.5 975.42 L1148.4 975.54 L1149.3 975.97 L1150.2 976.25 L1151.1 975.93 L1152.0 975.82 L1152.9 976.03 L1153.8 975.74 L1154.7 975.33 L1155.6 975.27 L1156.5 975.46 L1157.4 975.78 L1158.3 975.98 L1159.2 975.98 L1160.1 975.57 L1161.0 975.09 L1161.9 975.00 L1162.8 974.90 L1163.7 974.88 L1164.6 974.73 L1165.5 974.26 L1166.4 973.84 L1167.3 973.45 L1168.2 972.85 L1169.1 971.71 L1170.0 968.80 L1170.9 961.48 L1171.8 947.69 L1172.7 929.94 L1173.6 922.75 L1174.5 933.51 L1175.4 944.11 L1176.3 945.94 L1177.2 944.91 L1178.1 951.06 L1179.0 960.32 L1179.9 967.32 L1180.8 971.41 L1181.7 973.22 L1182.6 973.93 L1183.5 974.14 L1184.4 974.38 L1185.3 974.98 L1186.2 975.21 L1187.1 974.70 L1188.0 974.42 L1188.9 974.84 L1189.8 975.03 L1190.7 974.76 L1191.6 974.91 L1192.5 975.55 L1193.4 976.04 L1194.3 975.97 L1195.2 975.60 L1196.1 975.46 L1197.0 975.27 L1197.9 974.98 L1198.8 975.10 L1199.7 975.18 L1200.6 974.85 L1201.5 974.69 L1202.4 974.67 L1203.3 974.34 L1204.2 974.02 L1205.1 974.08 L1206.0 974.08 L1206.9 973.33 L1207.8 972.26 L1208.7 971.11 L1209.6 969.03 L1210.5 964.37 L1211.4 953.29 L1212.3 932.21 L1213.2 905.49 L1214.1 895.17 L1215.0 912.17 L1215.9 929.39 L1216.8 932.69 L1217.7 929.28 L1218.6 936.44 L1219.5 950.80 L1220.4 961.89 L1221.3 968.26 L1222.2 971.15 L1223.1 972.38 L1224.0 973.25 L1224.9 974.01 L1225.8 974.33 L1226.7 974.64 L1227.6 975.05 L1228.5 974.87 L1229.4 974.90 L1230.3 975.43 L1231.2 975.37 L1232.1 975.16 L1233.0 975.55 L1233.9 976.02 L1234.8 975.90 L1235.7 975.62 L1236.6 976.05 L1237.5 976.63 L1238.4 976.60 L1239.3 976.30 L1240.2 975.98 L1241.1 976.15 L1242.0 976.47 L1242.9 976.26 L1243.8 976.23 L1244.7 976.44 L1245.6 976.37 L1246.5 976.27 L1247.4 976.27 L1248.3 975.99 L1249.2 975.84 L1250.1 976.12 L1251.0 976.15 L1251.9 976.02 L1252.8 975.92 L1253.7 975.89 L1254.6 976.26 L1255.5 976.29 L1256.4 975.73 L1257.3 975.63 L1258.2 975.76 L1259.1 975.84 L1260.0 976.30 L1260.9 976.64 L1261.8 976.62 L1262.7 976.61 L1263.6 976.50 L1264.5 976.31 L1265.4 976.23 L1266.3 976.16 L1267.2 976.23 L1268.1 976.34 L1269.0 976.03 L1269.9 975.91 L1270.8 976.10 L1271.7 976.16 L1272.6 976.38 L1273.5 976.51 L1274.4 976.16 L1275.3 975.83 L1276.2 976.04 L1277.1 976.30 L1278.0 976.27 L1278.9 976.15 L1279.8 976.02 L1280.7 976.13 L1281.6 976.38 L1282.5 976.37 L1283.4 976.26 L1284.3 976.50 L1285.2 976.80 L1286.1 976.73 L1287.0 976.72 L1287.9 976.68 L1288.8 976.29 L1289.7 976.29 L1290.6 976.42 L1291.5 976.30 L1292.4 976.21 L1293.3 976.17 L1294.2 976.25 L1295.1 976.23 L1296.0 976.16 L1296.9 976.15 L1297.8 976.27 L1298.7 976.61 L1299.6 976.73 L1300.5 976.51 L1301.4 976.61 L1302.3 976.67 L1303.2 976.37 L1304.1 976.31 L1305.0 976.35 L1305.9 976.47 L1306.8 976.75 L1307.7 976.72 L1308.6 976.46 L1309.5 976.43 L1310.4 976.53 L1311.3 976.45 L1312.2 976.33 L1313.1 976.69 L1314.0 977.18 L1314.9 977.23 L1315.8 976.91 L1316.7 976.41 L1317.6 976.29 L1318.5 976.55 L1319.4 976.37 L1320.3 975.82 L1321.2 975.87 L1322.1 976.29 L1323.0 976.17 L1323.9 975.77 L1324.8 975.75 L1325.7 976.09 L1326.6 976.50 L1327.5 976.67 L1328.4 976.56 L1329.3 976.39 L1330.2 976.30 L1331.1 976.49 L1332.0 976.56 L1332.9 976.28 L1333.8 976.44 L1334.7 976.68 L1335.6 976.21 L1336.5 975.74 L1337.4 975.97 L1338.3 976.14 L1339.2 975.95 L1340.1 975.93 L1341.0 976.13 L1341.9 976.23 L1342.8 976.16 L1343.7 976.08 L1344.6 976.23 L1345.5 976.36 L1346.4 976.02 L1347.3 975.79 L1348.2 975.70 L1349.1 975.75 L1350.0 976.24 L1350.9 976.39 L1351.8 976.11 L1352.7 976.02 L1353.6 976.09 L1354.5 975.85 L1355.4 975.54 L1356.3 975.77 L1357.2 975.94 L1358.1 975.82 L1359.0 975.61 L1359.9 975.56 L1360.8 975.96 L1361.7 975.97 L1362.6 975.61 L1363.5 975.53 L1364.4 975.36 L1365.3 975.17 L1366.2 975.50 L1367.1 975.79 L1368.0 975.65 L1368.9 975.27 L1369.8 974.90 L1370.7 974.74 L1371.6 974.65 L1372.5 974.79 L1373.4 975.37 L1374.3 975.64 L1375.2 975.01 L1376.1 974.35 L1377.0 973.96 L1377.9 973.72 L1378.8 973.38 L1379.7 972.53 L1380.6 971.66 L1381.5 970.57 L1382.4 969.24 L1383.3 967.80 L1384.2 965.54 L1385.1 963.20 L1386.0 960.90 L1386.9 957.77 L1387.8 955.12 L1388.7 954.28 L1389.6 954.35 L1390.5 955.04 L1391.4 956.71 L1392.3 959.07 L1393.2 961.88 L1394.1 964.32 L1395.0 966.28 L1395.9 968.10 L1396.8 969.59 L1397.7 971.04 L1398.6 972.07 L1399.5 972.59 L1400.4 973.01 L1401.3 973.16 L1402.2 973.41 L1403.1 974.03 L1404.0 974.56 L1404.9 974.88 L1405.8 975.11 L1406.7 974.93 L1407.6 974.69 L1408.5 974.80 L1409.4 975.06 L1410.3 975.18 L1411.2 975.31 L1412.1 975.47 L1413.0 975.34 L1413.9 975.02 L1414.8 974.97 L1415.7 975.44 L1416.6 975.92 L1417.5 975.75 L1418.4 975.14 L1419.3 974.74 L1420.2 974.53 L1421.1 973.61 L1422.0 971.37 L1422.9 966.81 L1423.8 959.06 L1424.7 951.60 L1425.6 951.89 L1426.5 957.59 L1427.4 961.75 L1428.3 962.61 L1429.2 961.87 L1430.1 961.53 L1431.0 961.27 L1431.9 960.95 L1432.8 961.56 L1433.7 962.92 L1434.6 965.07 L1435.5 967.52 L1436.4 969.03 L1437.3 970.03 L1438.2 971.26 L1439.1 972.65 L1440.0 973.78 L1440.9 974.28 L1441.8 974.65 L1442.7 974.93 L1443.6 974.88 L1444.5 975.38 L1445.4 975.99 L1446.3 975.89 L1447.2 975.65 L1448.1 975.50 L1449.0 975.39 L1449.9 975.37 L1450.8 975.36 L1451.7 975.11 L1452.6 975.04 L1453.5 975.47 L1454.4 975.87 L1455.3 976.25 L1456.2 976.43 L1457.1 976.46 L1458.0 976.63 L1458.9 976.51 L1459.8 976.32 L1460.7 976.63 L1461.6 976.86 L1462.5 976.34 L1463.4 975.81 L1464.3 975.86 L1465.2 975.98 L1466.1 975.78 L1467.0 975.92 L1467.9 976.27 L1468.8 976.12 L1469.7 975.98 L1470.6 975.98 L1471.5 976.02 L1472.4 976.24 L1473.3 976.04 L1474.2 975.44 L1475.1 974.88 L1476.0 974.74 L1476.9 974.73 L1477.8 974.17 L1478.7 973.34 L1479.6 972.58 L1480.5 971.53 L1481.4 970.44 L1482.3 969.85 L1483.2 968.94 L1484.1 967.24 L1485.0 965.57 L1485.9 964.86 L1486.8 964.35 L1487.7 963.29 L1488.6 962.41 L1489.5 962.26 L1490.4 962.97 L1491.3 963.79 L1492.2 964.29 L1493.1 965.48 L1494.0 967.05 L1494.9 968.20 L1495.8 969.46 L1496.7 970.86 L1497.6 971.89 L1498.5 972.56 L1499.4 973.19 L1500.3 973.99 L1501.2 974.75 L1502.1 975.27 L1503.0 975.56 L1503.9 975.47 L1504.8 975.67 L1505.7 976.12 L1506.6 976.15 L1507.5 976.00 L1508.4 975.82 L1509.3 975.69 L1510.2 975.67 L1511.1 975.86 L1512.0 976.14 L1512.9 976.16 L1513.8 975.60 L1514.7 975.02 L1515.6 974.99 L1516.5 974.38 L1517.4 972.76 L1518.3 970.41 L1519.2 967.74 L1520.1 966.20 L1521.0 966.66 L1521.9 968.12 L1522.8 969.22 L1523.7 969.83 L1524.6 970.22 L1525.5 970.24 L1526.4 970.53 L1527.3 971.78 L1528.2 973.39 L1529.1 974.45 L1530.0 974.77 L1530.9 975.01 L1531.8 975.41 L1532.7 975.61 L1533.6 975.66 L1534.5 975.76 L1535.4 975.85 L1536.3 975.94 L1537.2 976.09 L1538.1 976.02 L1539.0 976.13 L1539.9 976.54 L1540.8 976.51 L1541.7 976.17 L1542.6 975.78 L1543.5 975.66 L1544.4 976.15 L1545.3 976.35 L1546.2 976.15 L1547.1 976.11 L1548.0 976.10 L1548.9 976.20 L1549.8 976.22 L1550.7 976.01 L1551.6 976.09 L1552.5 976.24 L1553.4 975.94 L1554.3 975.51 L1555.2 975.54 L1556.1 976.19 L1557.0 976.69 L1557.9 976.60 L1558.8 976.56 L1559.7 976.59 L1560.6 976.60 L1561.5 976.42 L1562.4 975.98 L1563.3 976.21 L1564.2 976.68 L1565.1 976.70 L1566.0 976.81 L1566.9 976.80 L1567.8 976.30 L1568.7 975.80 L1569.6 975.91 L1570.5 976.56 L1571.4 976.96 L1572.3 976.38 L1573.2 975.75 L1574.1 975.97 L1575.0 976.27 L1575.9 976.37 L1576.8 975.99 L1577.7 975.80 L1578.6 976.65 L1579.5 976.99 L1580.4 976.67 L1581.3 976.37 L1582.2 976.06 L1583.1 976.37 L1584.0 976.89 L1584.9 976.84 L1585.8 976.57 L1586.7 976.35 L1587.6 976.26 L1588.5 976.47 L1589.4 976.79 L1590.3 976.90 L1591.2 976.57 L1592.1 976.09 L1593.0 976.05 L1593.9 976.09 L1594.8 976.09 L1595.7 976.19 L1596.6 976.42 L1597.5 976.79 L1598.4 976.63 L1599.3 976.14 L1600.2 975.92 L1601.1 976.17 L1602.0 976.27 L1602.9 975.79 L1603.8 975.86 L1604.7 975.88 L1605.6 975.36 L1606.5 975.35 L1607.4 975.57 L1608.3 975.47 L1609.2 974.77 L1610.1 973.98 L1611.0 973.70 L1611.9 973.04 L1612.8 971.61 L1613.7 970.45 L1614.6 969.94 L1615.5 970.03 L1616.4 970.77 L1617.3 971.66 L1618.2 972.22 L1619.1 972.32 L1620.0 972.13 L1620.9 972.55 L1621.8 973.66 L1622.7 974.26 L1623.6 974.70 L1624.5 975.55 L1625.4 976.06 L1626.3 976.03 L1627.2 975.85 L1628.1 975.75 L1629.0 975.97 L1629.9 976.09 L1630.8 976.05 L1631.7 976.03 L1632.6 976.11 L1633.5 976.23 L1634.4 976.13 L1635.3 976.12 L1636.2 976.14 L1637.1 976.40 L1638.0 976.41 L1638.9 975.92 L1639.8 975.94 L1640.7 976.01 L1641.6 975.78 L1642.5 976.02 L1643.4 976.27 L1644.3 975.97 L1645.2 975.72 L1646.1 975.57 L1647.0 975.72 L1647.9 976.26 L1648.8 976.32 L1649.7 976.01 L1650.6 976.18 L1651.5 976.08 L1652.4 975.71 L1653.3 975.76 L1654.2 975.61 L1655.1 975.36 L1656.0 975.37 L1656.9 975.51 L1657.8 975.79 L1658.7 976.06 L1659.6 975.82 L1660.5 975.46 L1661.4 975.35 L1662.3 974.56 L1663.2 973.79 L1664.1 973.71 L1665.0 973.40 L1665.9 972.75 L1666.8 972.00 L1667.7 971.01 L1668.6 969.95 L1669.5 969.38 L1670.4 969.37 L1671.3 969.57 L1672.2 969.98 L1673.1 970.63 L1674.0 971.10 L1674.9 971.34 L1675.8 971.57 L1676.7 971.99 L1677.6 972.66 L1678.5 973.05 L1679.4 973.19 L1680.3 973.93 L1681.2 974.89 L1682.1 975.38 L1683.0 975.59 L1683.9 975.58 L1684.8 975.59 L1685.7 975.74 L1686.6 975.90 L1687.5 976.09 L1688.4 976.14 L1689.3 976.19 L1690.2 976.16 L1691.1 975.88 L1692.0 975.75 L1692.9 975.86 L1693.8 976.19 L1694.7 976.42 L1695.6 976.17 L1696.5 976.12 L1697.4 976.52 L1698.3 976.70 L1699.2 976.60 L1700.1 976.51 L1701.0 976.35 L1701.9 976.24 L1702.8 976.33 L1703.7 976.43 L1704.6 976.34 L1705.5 976.10 L1706.4 975.83 L1707.3 975.82 L1708.2 976.02 L1709.1 976.24 L1710.0 976.37 L1710.9 976.30 L1711.8 976.27 L1712.7 976.08 L1713.6 975.72 L1714.5 975.67 L1715.4 975.93 L1716.3 975.98 L1717.2 975.98 L1718.1 976.33 L1719.0 976.55 L1719.9 976.45 L1720.8 976.35 L1721.7 976.36 L1722.6 976.07 L1723.5 975.57 L1724.4 975.86 L1725.3 976.28 L1726.2 976.07 L1727.1 976.04 L1728.0 976.13 L1728.9 976.00 L1729.8 976.15 L1730.7 975.97 L1731.6 974.90 L1732.5 974.36 L1733.4 974.19 L1734.3 972.66 L1735.2 970.25 L1736.1 967.79 L1737.0 965.52 L1737.9 965.29 L1738.8 967.18 L1739.7 969.32 L1740.6 970.72 L1741.5 971.02 L1742.4 970.58 L1743.3 970.26 L1744.2 970.40 L1745.1 970.98 L1746.0 972.26 L1746.9 973.77 L1747.8 974.92 L1748.7 975.96 L1749.6 976.21 L1750.5 975.50 L1751.4 975.03 L1752.3 975.35 L1753.2 975.77 L1754.1 975.97 L1755.0 976.03 L1755.9 975.79 L1756.8 975.78 L1757.7 976.05" fill="none" stroke="#000" stroke-width="3" stroke-linejoin="round" stroke-linecap="butt" shape-rendering="crispEdges"/>
<g fill="#000" shape-rendering="crispEdges">
<rect x="56" y="43" width="3" height="1290"/>
<rect x="56" y="43" width="1703" height="2"/>
<rect x="1757" y="43" width="2" height="1290"/>
<rect x="54" y="1331" width="1707" height="6"/>
<path d="M55 1334 H61 V1360 L60 1361 H56 L55 1360 Z"/>
<path d="M149 1334 H155 V1348 L154 1349 H150 L149 1348 Z"/>
<path d="M243 1334 H249 V1360 L248 1361 H244 L243 1360 Z"/>
<path d="M338 1334 H344 V1348 L343 1349 H339 L338 1348 Z"/>
<path d="M433 1334 H439 V1360 L438 1361 H434 L433 1360 Z"/>
<path d="M527 1334 H533 V1348 L532 1349 H528 L527 1348 Z"/>
<path d="M621 1334 H627 V1360 L626 1361 H622 L621 1360 Z"/>
<path d="M716 1334 H722 V1348 L721 1349 H717 L716 1348 Z"/>
<path d="M811 1334 H817 V1360 L816 1361 H812 L811 1360 Z"/>
<path d="M905 1334 H911 V1348 L910 1349 H906 L905 1348 Z"/>
<path d="M999 1334 H1005 V1360 L1004 1361 H1000 L999 1360 Z"/>
<path d="M1094 1334 H1100 V1348 L1099 1349 H1095 L1094 1348 Z"/>
<path d="M1189 1334 H1195 V1360 L1194 1361 H1190 L1189 1360 Z"/>
<path d="M1283 1334 H1289 V1348 L1288 1349 H1284 L1283 1348 Z"/>
<path d="M1377 1334 H1383 V1360 L1382 1361 H1378 L1377 1360 Z"/>
<path d="M1472 1334 H1478 V1348 L1477 1349 H1473 L1472 1348 Z"/>
<path d="M1567 1334 H1573 V1360 L1572 1361 H1568 L1567 1360 Z"/>
<path d="M1661 1334 H1667 V1348 L1666 1349 H1662 L1661 1348 Z"/>
<path d="M1755 1334 H1761 V1360 L1760 1361 H1756 L1755 1360 Z"/>
</g>
<text class="s" transform="translate(54.2 1410.2) scale(1 1.000)" font-size="51" text-anchor="middle">20</text>
<text class="s" transform="translate(243.2 1410.2) scale(1 1.000)" font-size="51" text-anchor="middle">30</text>
<text class="s" transform="translate(432.2 1410.2) scale(1 1.000)" font-size="51" text-anchor="middle">40</text>
<text class="s" transform="translate(621.2 1410.2) scale(1 1.000)" font-size="51" text-anchor="middle">50</text>
<text class="s" transform="translate(810.2 1410.2) scale(1 1.000)" font-size="51" text-anchor="middle">60</text>
<text class="s" transform="translate(999.2 1410.2) scale(1 1.000)" font-size="51" text-anchor="middle">70</text>
<text class="s" transform="translate(1188.2 1410.2) scale(1 1.000)" font-size="51" text-anchor="middle">80</text>
<text class="s" transform="translate(1377.2 1410.2) scale(1 1.000)" font-size="51" text-anchor="middle">90</text>
<text class="s" transform="translate(1566.7 1410.2) scale(1 1.000)" font-size="51" text-anchor="middle">100</text>
<text class="s" transform="translate(1755.7 1410.2) scale(1 1.000)" font-size="51" text-anchor="middle">110</text>
<text class="s" transform="translate(757.5 1510.2) scale(1 1.000)" font-size="61.5" text-anchor="start">2</text>
<text class="t" transform="translate(791.5 1510) scale(1.2 1)" font-size="52.2">θ</text>
<text class="s" transform="translate(837.4 1510.2) scale(0.98 1)" font-size="61.5">/ degree</text>
<text class="s" transform="translate(103.5 147.0) scale(1 1.000)" font-size="61.5" text-anchor="start">(a)</text>
<text class="s" transform="translate(1518.0 430.2) scale(1 1.040)" font-size="61" text-anchor="start">NKLaA</text>
<text class="s" transform="translate(1563.0 878.4) scale(1 1.040)" font-size="61" text-anchor="start">NKA</text>
<text class="s" transform="translate(1588.0 1236.9) scale(1 1.040)" font-size="61" text-anchor="start">NA</text>
<circle cx="1389" cy="150.2" r="25"/>
<path d="M1363.3 207 L1415 207 L1389.2 250 Z"/>
<text class="s" x="1421" y="178.3" font-size="61.5">-</text>
<text class="s" x="1421" y="260.3" font-size="61.5">-</text>
<text class="t" transform="translate(1456 175.6) scale(0.95 1)" font-size="63">α-Al<tspan font-size="35" dy="22.8">2</tspan><tspan dy="-22.8">O</tspan><tspan font-size="35" dy="22.8">3</tspan></text>
<text class="t" transform="translate(1456 257.2) scale(0.955 1)" font-size="63">NiO</text>
<circle cx="246.4" cy="323.5" r="11.6"/>
<circle cx="458.5" cy="258.5" r="11.6"/>
<circle cx="516.5" cy="376.5" r="11.6"/>
<circle cx="638.4" cy="202.5" r="11.6"/>
<circle cx="851.5" cy="398.7" r="11.6"/>
<circle cx="960.5" cy="327.4" r="11.6"/>
<circle cx="1052.6" cy="470.6" r="11.6"/>
<circle cx="1171.6" cy="429.2" r="11.6"/>
<circle cx="1214.2" cy="389.4" r="11.6"/>
<circle cx="1428.0" cy="451.7" r="11.6"/>
<path d="M621.9 126.7 L660.1 126.7 L641.0 159.2 Z"/>
<path d="M480.9 398.0 L519.1 398.0 L500.0 430.5 Z"/>
<path d="M1069.8 411.8 L1108.2 411.8 L1089.0 444.3 Z"/>
<path d="M1375.8 439.9 L1414.2 439.9 L1395.0 472.4 Z"/>
<path d="M1467.8 442.8 L1506.2 442.8 L1487.0 475.3 Z"/>
</svg></body></html>
